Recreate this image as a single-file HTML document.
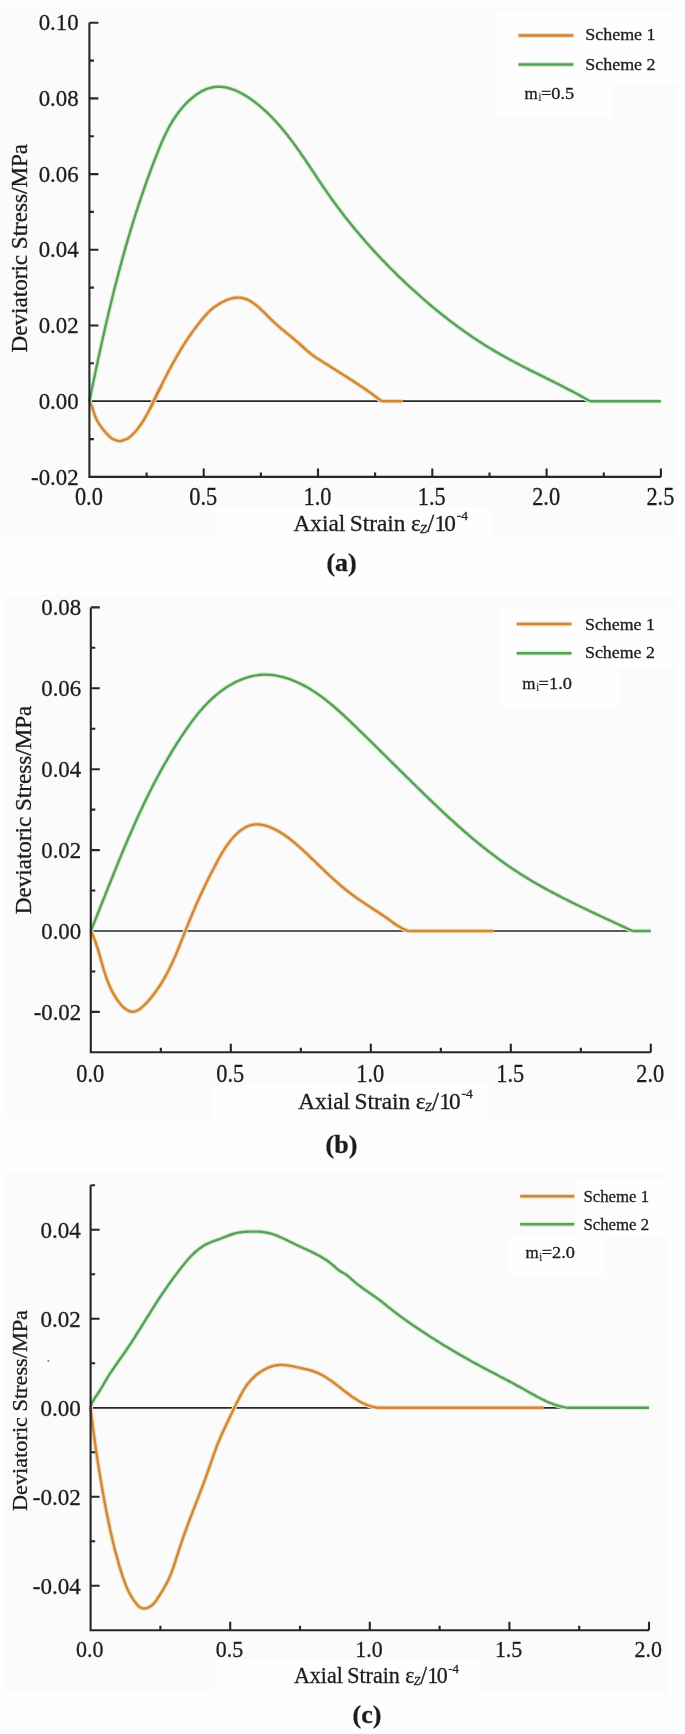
<!DOCTYPE html>
<html><head><meta charset="utf-8"><style>
html,body{margin:0;padding:0;background:#fefefe;}
svg{display:block;font-family:"Liberation Serif",serif;}
</style></head><body>
<svg width="685" height="1734" viewBox="0 0 685 1734">
<rect width="685" height="1734" fill="#fefefe"/>
<rect x="0" y="8" width="678" height="529" fill="#fbfbfb"/>
<rect x="215" y="507" width="275" height="30" fill="#fefefe"/>
<rect x="495" y="10" width="183" height="74" fill="#fefefe"/>
<rect x="495" y="84" width="118" height="34" fill="#fefefe"/>
<rect x="6" y="595" width="669" height="524" fill="#fbfbfb"/>
<rect x="212" y="1085" width="276" height="34" fill="#fefefe"/>
<rect x="502" y="607" width="171" height="62" fill="#fefefe"/>
<rect x="501" y="669" width="117" height="39" fill="#fefefe"/>
<rect x="6" y="1174" width="663" height="520" fill="#fbfbfb"/>
<rect x="215" y="1660" width="265" height="34" fill="#fefefe"/>
<rect x="577" y="1180" width="92" height="58" fill="#fefefe"/>
<rect x="510" y="1238" width="94" height="38" fill="#fefefe"/>
<defs><filter id="bl" x="0" y="0" width="685" height="1734" filterUnits="userSpaceOnUse"><feGaussianBlur stdDeviation="0.55"/></filter></defs>
<g fill="#1c1c1c" stroke="#1c1c1c" stroke-width="0.3" filter="url(#bl)">
<line x1="89.4" y1="401.2" x2="660.9" y2="401.2" stroke="#262626" stroke-width="1.7"/>
<path d="M89.4,401.2 L90.1,402.5 L90.8,403.9 L91.4,405.3 L91.9,406.7 L92.4,408.0 L92.9,409.4 L93.3,410.9 L93.8,412.3 L94.3,413.7 L94.7,415.1 L95.3,416.4 L95.8,417.8 L96.4,419.2 L97.1,420.5 L97.9,421.9 L98.6,423.2 L99.5,424.4 L100.3,425.7 L101.2,426.9 L102.0,428.1 L102.9,429.2 L103.8,430.3 L104.8,431.5 L105.8,432.6 L106.8,433.7 L107.8,434.8 L108.9,435.8 L109.9,436.9 L111.0,437.9 L112.1,438.7 L113.5,439.3 L115.0,439.8 L116.4,440.3 L117.8,440.8 L119.2,441.1 L120.6,441.1 L122.0,440.7 L123.4,440.2 L124.9,439.7 L126.3,439.2 L127.7,438.6 L128.9,437.8 L130.1,436.9 L131.2,435.9 L132.3,434.9 L133.3,433.8 L134.3,432.7 L135.3,431.6 L136.3,430.5 L137.3,429.3 L138.2,428.1 L139.1,426.9 L140.0,425.7 L140.8,424.5 L141.7,423.3 L142.5,422.0 L143.3,420.7 L144.1,419.5 L144.8,418.2 L145.6,416.9 L146.3,415.6 L147.0,414.3 L147.7,413.0 L148.4,411.7 L149.1,410.3 L149.8,409.0 L150.4,407.7 L151.1,406.3 L151.7,405.0 L152.4,403.6 L153.0,402.3 L153.7,400.9 L154.3,399.6 L155.0,398.2 L155.6,396.9 L156.3,395.6 L157.0,394.2 L157.6,392.9 L158.3,391.5 L159.0,390.2 L159.7,388.9 L160.4,387.6 L161.2,386.3 L161.9,385.0" fill="none" stroke="#f5dbb8" stroke-width="4.6" stroke-linejoin="round"/>
<path d="M149.6,409.9 L150.2,408.6 L150.9,407.2 L151.5,405.9 L152.1,404.5 L152.8,403.2 L153.4,401.9 L154.1,400.5 L154.7,399.2 L155.3,397.8 L156.0,396.5 L156.6,395.1 L157.3,393.8 L157.9,392.4 L158.6,391.1 L159.3,389.7 L159.9,388.4 L160.6,387.0 L161.2,385.7 L161.9,384.3 L162.6,383.0 L163.2,381.7 L163.9,380.3 L164.6,379.0 L165.3,377.6 L166.0,376.3 L166.7,374.9 L167.4,373.6 L168.0,372.3 L168.7,370.9 L169.5,369.6 L170.2,368.3 L170.9,367.0 L171.6,365.6 L172.3,364.3 L173.0,363.0 L173.8,361.7 L174.5,360.4 L175.2,359.1 L176.0,357.8 L176.7,356.5 L177.5,355.2 L178.2,353.9 L179.0,352.6 L179.8,351.3 L180.5,350.0 L181.3,348.7 L182.1,347.5 L182.9,346.2 L183.7,344.9 L184.5,343.7 L185.3,342.4 L186.1,341.1 L186.9,339.9 L187.7,338.7 L188.6,337.4 L189.4,336.2 L190.3,335.0 L191.1,333.8 L192.0,332.5 L192.8,331.3 L193.7,330.1 L194.6,328.9 L195.5,327.8 L196.3,326.6 L197.2,325.4 L198.2,324.2 L199.1,323.1 L200.0,321.9 L200.9,320.8 L201.9,319.6 L202.8,318.5 L203.8,317.4 L204.7,316.3 L205.7,315.2 L206.7,314.1 L207.7,313.0 L208.7,312.0 L209.8,310.9 L210.8,309.9 L212.0,309.0 L213.1,308.0 L214.3,307.1 L215.5,306.3 L216.8,305.4 L218.1,304.6 L219.4,303.8 L220.7,303.0 L222.1,302.2 L223.5,301.5 L225.0,300.8 L226.4,300.2 L227.9,299.6 L229.3,299.1 L230.8,298.7 L232.3,298.3 L233.7,298.0 L235.2,297.7 L236.6,297.6 L238.0,297.6 L239.4,297.6 L240.8,297.7 L242.1,298.0 L243.5,298.3 L244.8,298.7 L246.1,299.1 L247.4,299.6 L248.6,300.2 L249.9,300.9 L251.1,301.6 L252.3,302.4 L253.5,303.2 L254.7,304.1 L255.9,305.0 L257.0,305.9 L258.2,306.9 L259.3,307.9 L260.5,309.0 L261.6,310.1 L262.7,311.1 L263.9,312.2 L265.0,313.3 L266.1,314.4 L267.2,315.6 L268.3,316.7 L269.4,317.8 L270.5,318.9 L271.6,320.0 L272.8,321.0 L273.9,322.1 L275.0,323.1 L276.1,324.1 L277.2,325.1 L278.3,326.1 L279.5,327.1 L280.6,328.0 L281.7,329.0 L282.8,329.9 L284.0,330.9 L285.1,331.8 L286.2,332.7 L287.4,333.6 L288.5,334.6 L289.6,335.5 L290.7,336.4 L291.9,337.3 L293.0,338.3 L294.1,339.2 L295.2,340.2 L296.3,341.1 L297.5,342.1 L298.6,343.0 L299.7,344.0 L300.8,345.0 L301.9,346.0 L303.0,347.0 L304.1,348.0 L305.3,349.1 L306.4,350.1 L307.5,351.1 L308.7,352.0 L309.8,353.0 L311.0,353.9 L312.2,354.9 L313.4,355.7 L314.6,356.6 L315.8,357.4 L317.0,358.2 L318.3,359.0 L319.5,359.8 L320.8,360.6 L322.0,361.4 L323.3,362.2 L324.5,363.0 L325.8,363.7 L327.0,364.5 L328.3,365.3 L329.5,366.1 L330.8,366.9 L332.1,367.7 L333.3,368.5 L334.6,369.3 L335.8,370.1 L337.1,370.9 L338.4,371.7 L339.6,372.5 L340.9,373.3 L342.2,374.1 L343.4,374.9 L344.7,375.7 L346.0,376.5 L347.2,377.3 L348.5,378.1 L349.7,378.9 L351.0,379.7 L352.3,380.5 L353.5,381.3 L354.8,382.2 L356.0,383.0 L357.3,383.8 L358.5,384.6 L359.8,385.5 L361.0,386.3 L362.3,387.1 L363.5,388.0 L364.7,388.8 L366.0,389.7 L367.2,390.5 L368.4,391.4 L369.6,392.3 L370.9,393.1 L372.1,394.0 L373.3,394.9 L374.5,395.8 L375.7,396.7 L376.9,397.6 L378.1,398.5 L379.2,399.4 L380.4,400.3 L381.6,401.2" fill="none" stroke="#f5dbb8" stroke-width="4.6" stroke-linejoin="round"/>
<line x1="381.6" y1="401.2" x2="402.6" y2="401.2" stroke="#f5dbb8" stroke-width="4.6"/>
<path d="M89.4,401.2 L89.7,399.7 L90.0,398.2 L90.3,396.8 L90.6,395.3 L90.9,393.8 L91.2,392.4 L91.5,390.9 L91.8,389.4 L92.1,387.9 L92.4,386.5 L92.7,385.0 L93.0,383.5 L93.4,382.0 L93.7,380.6 L94.0,379.1 L94.3,377.6 L94.6,376.2 L94.9,374.7 L95.2,373.2 L95.5,371.8 L95.8,370.3 L96.1,368.8 L96.4,367.4 L96.8,365.9 L97.1,364.4 L97.4,363.0 L97.7,361.5 L98.0,360.0 L98.3,358.6 L98.6,357.1 L99.0,355.6 L99.3,354.2 L99.6,352.7 L99.9,351.2 L100.2,349.8 L100.5,348.3 L100.9,346.9 L101.2,345.4 L101.5,343.9 L101.8,342.5 L102.2,341.0 L102.5,339.6 L102.8,338.1 L103.1,336.6 L103.5,335.2 L103.8,333.7 L104.1,332.3 L104.5,330.8 L104.8,329.3 L105.1,327.9 L105.4,326.4 L105.8,325.0 L106.1,323.5 L106.5,322.1 L106.8,320.6 L107.1,319.2 L107.5,317.7 L107.8,316.3 L108.2,314.8 L108.5,313.3 L108.8,311.9 L109.2,310.4 L109.5,309.0 L109.9,307.5 L110.2,306.1 L110.6,304.6 L110.9,303.2 L111.3,301.7 L111.6,300.3 L112.0,298.8 L112.3,297.4 L112.7,295.9 L113.1,294.5 L113.4,293.0 L113.8,291.6 L114.1,290.1 L114.5,288.7 L114.9,287.3 L115.2,285.8 L115.6,284.4 L116.0,282.9 L116.4,281.5 L116.7,280.0 L117.1,278.6 L117.5,277.1 L117.9,275.7 L118.2,274.2 L118.6,272.8 L119.0,271.4 L119.4,269.9 L119.8,268.5 L120.1,267.0 L120.5,265.6 L120.9,264.2 L121.3,262.7 L121.7,261.3 L122.1,259.8 L122.5,258.4 L122.9,257.0 L123.3,255.5 L123.7,254.1 L124.1,252.6 L124.5,251.2 L124.9,249.8 L125.3,248.3 L125.7,246.9 L126.1,245.4 L126.6,244.0 L127.0,242.6 L127.4,241.1 L127.8,239.7 L128.2,238.3 L128.6,236.8 L129.1,235.4 L129.5,234.0 L129.9,232.5 L130.4,231.1 L130.8,229.7 L131.2,228.2 L131.7,226.8 L132.1,225.4 L132.5,223.9 L133.0,222.5 L133.4,221.1 L133.9,219.6 L134.3,218.2 L134.8,216.8 L135.2,215.3 L135.7,213.9 L136.1,212.5 L136.6,211.0 L137.1,209.6 L137.5,208.2 L138.0,206.8 L138.5,205.3 L138.9,203.9 L139.4,202.5 L139.9,201.0 L140.4,199.6 L140.8,198.2 L141.3,196.8 L141.8,195.3 L142.3,193.9 L142.8,192.5 L143.3,191.0 L143.8,189.6 L144.3,188.2 L144.7,186.8 L145.2,185.3 L145.8,183.9 L146.3,182.5 L146.8,181.1 L147.3,179.6 L147.8,178.2 L148.3,176.8 L148.8,175.4 L149.3,174.0 L149.9,172.5 L150.4,171.1 L150.9,169.7 L151.4,168.3 L152.0,166.8 L152.5,165.4 L153.1,164.0 L153.6,162.6 L154.1,161.2 L154.7,159.7 L155.2,158.3 L155.8,156.9 L156.3,155.5 L156.9,154.1 L157.5,152.6 L158.0,151.2 L158.6,149.8 L159.2,148.4 L159.8,147.0 L160.3,145.6 L160.9,144.2 L161.5,142.8 L162.1,141.4 L162.8,140.0 L163.4,138.6 L164.0,137.3 L164.7,135.9 L165.3,134.5 L166.0,133.2 L166.6,131.8 L167.3,130.5 L168.0,129.1 L168.7,127.8 L169.4,126.5 L170.2,125.2 L170.9,123.9 L171.7,122.6 L172.4,121.3 L173.2,120.0 L174.0,118.8 L174.8,117.5 L175.7,116.3 L176.5,115.1 L177.4,113.9 L178.2,112.7 L179.1,111.5 L180.1,110.3 L181.0,109.2 L181.9,108.1 L182.9,106.9 L183.9,105.8 L184.9,104.7 L185.9,103.7 L187.0,102.6 L188.0,101.6 L189.1,100.5 L190.2,99.5 L191.4,98.5 L192.5,97.6 L193.7,96.6 L194.9,95.7 L196.1,94.8 L197.3,94.0 L198.6,93.2 L199.8,92.4 L201.1,91.6 L202.4,90.9 L203.7,90.3 L205.1,89.7 L206.4,89.2 L207.7,88.7 L209.1,88.2 L210.5,87.8 L211.8,87.5 L213.2,87.2 L214.6,87.0 L216.0,86.9 L217.4,86.8 L218.8,86.7 L220.2,86.8 L221.5,86.9 L222.9,87.0 L224.3,87.2 L225.7,87.4 L227.1,87.7 L228.5,88.1 L229.9,88.5 L231.3,88.9 L232.6,89.4 L234.0,89.9 L235.4,90.4 L236.7,91.0 L238.1,91.6 L239.4,92.3 L240.8,93.0 L242.1,93.7 L243.4,94.4 L244.7,95.2 L246.1,96.0 L247.3,96.8 L248.6,97.6 L249.9,98.5 L251.1,99.4 L252.4,100.2 L253.6,101.1 L254.8,102.0 L256.0,103.0 L257.2,103.9 L258.4,104.9 L259.6,105.8 L260.7,106.8 L261.9,107.8 L263.0,108.8 L264.2,109.8 L265.3,110.8 L266.4,111.9 L267.5,112.9 L268.6,114.0 L269.6,115.0 L270.7,116.1 L271.8,117.2 L272.8,118.3 L273.8,119.4 L274.9,120.5 L275.9,121.6 L276.9,122.7 L277.9,123.8 L278.9,124.9 L279.9,126.1 L280.9,127.2 L281.8,128.3 L282.8,129.5 L283.7,130.6 L284.7,131.8 L285.6,133.0 L286.6,134.1 L287.5,135.3 L288.4,136.5 L289.3,137.7 L290.2,138.8 L291.1,140.0 L292.0,141.2 L292.9,142.4 L293.8,143.6 L294.7,144.8 L295.6,146.0 L296.4,147.2 L297.3,148.5 L298.2,149.7 L299.0,150.9 L299.9,152.1 L300.7,153.3 L301.6,154.6 L302.4,155.8 L303.3,157.0 L304.1,158.2 L305.0,159.5 L305.8,160.7 L306.6,161.9 L307.5,163.2 L308.3,164.4 L309.1,165.7 L310.0,166.9 L310.8,168.1 L311.6,169.4 L312.4,170.6 L313.3,171.9 L314.1,173.1 L314.9,174.3 L315.7,175.6 L316.6,176.8 L317.4,178.1 L318.2,179.3 L319.0,180.6 L319.9,181.8 L320.7,183.0 L321.5,184.3 L322.4,185.5 L323.2,186.7 L324.0,188.0 L324.9,189.2 L325.7,190.4 L326.6,191.7 L327.4,192.9 L328.3,194.1 L329.1,195.3 L330.0,196.6 L330.8,197.8 L331.7,199.0 L332.6,200.2 L333.5,201.4 L334.3,202.6 L335.2,203.8 L336.1,205.0 L337.0,206.2 L337.9,207.4 L338.8,208.6 L339.7,209.8 L340.6,211.0 L341.5,212.2 L342.4,213.4 L343.3,214.5 L344.2,215.7 L345.1,216.9 L346.0,218.1 L347.0,219.2 L347.9,220.4 L348.8,221.6 L349.8,222.8 L350.7,223.9 L351.6,225.1 L352.6,226.2 L353.5,227.4 L354.5,228.5 L355.4,229.7 L356.4,230.8 L357.4,232.0 L358.3,233.1 L359.3,234.3 L360.3,235.4 L361.2,236.5 L362.2,237.7 L363.2,238.8 L364.2,239.9 L365.1,241.1 L366.1,242.2 L367.1,243.3 L368.1,244.4 L369.1,245.5 L370.1,246.7 L371.1,247.8 L372.1,248.9 L373.1,250.0 L374.1,251.1 L375.2,252.2 L376.2,253.3 L377.2,254.4 L378.2,255.5 L379.2,256.6 L380.3,257.7 L381.3,258.8 L382.3,259.8 L383.4,260.9 L384.4,262.0 L385.5,263.1 L386.5,264.2 L387.5,265.2 L388.6,266.3 L389.6,267.4 L390.7,268.4 L391.8,269.5 L392.8,270.5 L393.9,271.6 L395.0,272.7 L396.0,273.7 L397.1,274.8 L398.2,275.8 L399.2,276.8 L400.3,277.9 L401.4,278.9 L402.5,280.0 L403.6,281.0 L404.7,282.0 L405.8,283.1 L406.8,284.1 L407.9,285.1 L409.0,286.1 L410.1,287.2 L411.2,288.2 L412.3,289.2 L413.5,290.2 L414.6,291.2 L415.7,292.2 L416.8,293.2 L417.9,294.2 L419.0,295.2 L420.2,296.2 L421.3,297.2 L422.4,298.2 L423.5,299.2 L424.7,300.2 L425.8,301.1 L426.9,302.1 L428.1,303.1 L429.2,304.1 L430.4,305.0 L431.5,306.0 L432.7,307.0 L433.8,307.9 L435.0,308.9 L436.1,309.8 L437.3,310.8 L438.5,311.7 L439.6,312.7 L440.8,313.6 L442.0,314.5 L443.1,315.5 L444.3,316.4 L445.5,317.3 L446.7,318.2 L447.9,319.2 L449.1,320.1 L450.2,321.0 L451.4,321.9 L452.6,322.8 L453.8,323.7 L455.0,324.6 L456.2,325.5 L457.4,326.4 L458.6,327.3 L459.8,328.1 L461.1,329.0 L462.3,329.9 L463.5,330.8 L464.7,331.6 L465.9,332.5 L467.2,333.3 L468.4,334.2 L469.6,335.0 L470.9,335.9 L472.1,336.7 L473.3,337.6 L474.6,338.4 L475.8,339.2 L477.1,340.0 L478.3,340.9 L479.6,341.7 L480.8,342.5 L482.1,343.3 L483.3,344.1 L484.6,344.9 L485.9,345.7 L487.1,346.5 L488.4,347.3 L489.7,348.1 L491.0,348.8 L492.3,349.6 L493.5,350.4 L494.8,351.1 L496.1,351.9 L497.4,352.6 L498.7,353.4 L500.0,354.1 L501.3,354.9 L502.6,355.6 L503.9,356.3 L505.2,357.1 L506.5,357.8 L507.8,358.5 L509.1,359.2 L510.5,359.9 L511.8,360.6 L513.1,361.3 L514.4,362.0 L515.7,362.7 L517.1,363.4 L518.4,364.1 L519.7,364.8 L521.0,365.5 L522.4,366.2 L523.7,366.9 L525.0,367.5 L526.4,368.2 L527.7,368.9 L529.0,369.6 L530.4,370.3 L531.7,370.9 L533.0,371.6 L534.4,372.3 L535.7,372.9 L537.1,373.6 L538.4,374.3 L539.7,374.9 L541.1,375.6 L542.4,376.3 L543.8,376.9 L545.1,377.6 L546.4,378.3 L547.8,378.9 L549.1,379.6 L550.5,380.3 L551.8,380.9 L553.1,381.6 L554.5,382.3 L555.8,383.0 L557.2,383.6 L558.5,384.3 L559.8,385.0 L561.2,385.7 L562.5,386.3 L563.8,387.0 L565.2,387.7 L566.5,388.4 L567.8,389.1 L569.1,389.8 L570.5,390.4 L571.8,391.1 L573.1,391.8 L574.4,392.5 L575.8,393.2 L577.1,393.9 L578.4,394.6 L579.7,395.4 L581.0,396.1 L582.3,396.8 L583.6,397.5 L584.9,398.2 L586.2,399.0 L587.5,399.7 L588.8,400.5 L590.1,401.2" fill="none" stroke="#d3eed0" stroke-width="4.6" stroke-linejoin="round"/>
<line x1="590.1" y1="401.2" x2="660.9" y2="401.2" stroke="#d3eed0" stroke-width="4.6"/>
<path d="M89.4,401.2 L90.1,402.5 L90.8,403.9 L91.4,405.3 L91.9,406.7 L92.4,408.0 L92.9,409.4 L93.3,410.9 L93.8,412.3 L94.3,413.7 L94.7,415.1 L95.3,416.4 L95.8,417.8 L96.4,419.2 L97.1,420.5 L97.9,421.9 L98.6,423.2 L99.5,424.4 L100.3,425.7 L101.2,426.9 L102.0,428.1 L102.9,429.2 L103.8,430.3 L104.8,431.5 L105.8,432.6 L106.8,433.7 L107.8,434.8 L108.9,435.8 L109.9,436.9 L111.0,437.9 L112.1,438.7 L113.5,439.3 L115.0,439.8 L116.4,440.3 L117.8,440.8 L119.2,441.1 L120.6,441.1 L122.0,440.7 L123.4,440.2 L124.9,439.7 L126.3,439.2 L127.7,438.6 L128.9,437.8 L130.1,436.9 L131.2,435.9 L132.3,434.9 L133.3,433.8 L134.3,432.7 L135.3,431.6 L136.3,430.5 L137.3,429.3 L138.2,428.1 L139.1,426.9 L140.0,425.7 L140.8,424.5 L141.7,423.3 L142.5,422.0 L143.3,420.7 L144.1,419.5 L144.8,418.2 L145.6,416.9 L146.3,415.6 L147.0,414.3 L147.7,413.0 L148.4,411.7 L149.1,410.3 L149.8,409.0 L150.4,407.7 L151.1,406.3 L151.7,405.0 L152.4,403.6 L153.0,402.3 L153.7,400.9 L154.3,399.6 L155.0,398.2 L155.6,396.9 L156.3,395.6 L157.0,394.2 L157.6,392.9 L158.3,391.5 L159.0,390.2 L159.7,388.9 L160.4,387.6 L161.2,386.3 L161.9,385.0" fill="none" stroke="#cf8839" stroke-width="2.4" stroke-linejoin="round"/>
<path d="M149.6,409.9 L150.2,408.6 L150.9,407.2 L151.5,405.9 L152.1,404.5 L152.8,403.2 L153.4,401.9 L154.1,400.5 L154.7,399.2 L155.3,397.8 L156.0,396.5 L156.6,395.1 L157.3,393.8 L157.9,392.4 L158.6,391.1 L159.3,389.7 L159.9,388.4 L160.6,387.0 L161.2,385.7 L161.9,384.3 L162.6,383.0 L163.2,381.7 L163.9,380.3 L164.6,379.0 L165.3,377.6 L166.0,376.3 L166.7,374.9 L167.4,373.6 L168.0,372.3 L168.7,370.9 L169.5,369.6 L170.2,368.3 L170.9,367.0 L171.6,365.6 L172.3,364.3 L173.0,363.0 L173.8,361.7 L174.5,360.4 L175.2,359.1 L176.0,357.8 L176.7,356.5 L177.5,355.2 L178.2,353.9 L179.0,352.6 L179.8,351.3 L180.5,350.0 L181.3,348.7 L182.1,347.5 L182.9,346.2 L183.7,344.9 L184.5,343.7 L185.3,342.4 L186.1,341.1 L186.9,339.9 L187.7,338.7 L188.6,337.4 L189.4,336.2 L190.3,335.0 L191.1,333.8 L192.0,332.5 L192.8,331.3 L193.7,330.1 L194.6,328.9 L195.5,327.8 L196.3,326.6 L197.2,325.4 L198.2,324.2 L199.1,323.1 L200.0,321.9 L200.9,320.8 L201.9,319.6 L202.8,318.5 L203.8,317.4 L204.7,316.3 L205.7,315.2 L206.7,314.1 L207.7,313.0 L208.7,312.0 L209.8,310.9 L210.8,309.9 L212.0,309.0 L213.1,308.0 L214.3,307.1 L215.5,306.3 L216.8,305.4 L218.1,304.6 L219.4,303.8 L220.7,303.0 L222.1,302.2 L223.5,301.5 L225.0,300.8 L226.4,300.2 L227.9,299.6 L229.3,299.1 L230.8,298.7 L232.3,298.3 L233.7,298.0 L235.2,297.7 L236.6,297.6 L238.0,297.6 L239.4,297.6 L240.8,297.7 L242.1,298.0 L243.5,298.3 L244.8,298.7 L246.1,299.1 L247.4,299.6 L248.6,300.2 L249.9,300.9 L251.1,301.6 L252.3,302.4 L253.5,303.2 L254.7,304.1 L255.9,305.0 L257.0,305.9 L258.2,306.9 L259.3,307.9 L260.5,309.0 L261.6,310.1 L262.7,311.1 L263.9,312.2 L265.0,313.3 L266.1,314.4 L267.2,315.6 L268.3,316.7 L269.4,317.8 L270.5,318.9 L271.6,320.0 L272.8,321.0 L273.9,322.1 L275.0,323.1 L276.1,324.1 L277.2,325.1 L278.3,326.1 L279.5,327.1 L280.6,328.0 L281.7,329.0 L282.8,329.9 L284.0,330.9 L285.1,331.8 L286.2,332.7 L287.4,333.6 L288.5,334.6 L289.6,335.5 L290.7,336.4 L291.9,337.3 L293.0,338.3 L294.1,339.2 L295.2,340.2 L296.3,341.1 L297.5,342.1 L298.6,343.0 L299.7,344.0 L300.8,345.0 L301.9,346.0 L303.0,347.0 L304.1,348.0 L305.3,349.1 L306.4,350.1 L307.5,351.1 L308.7,352.0 L309.8,353.0 L311.0,353.9 L312.2,354.9 L313.4,355.7 L314.6,356.6 L315.8,357.4 L317.0,358.2 L318.3,359.0 L319.5,359.8 L320.8,360.6 L322.0,361.4 L323.3,362.2 L324.5,363.0 L325.8,363.7 L327.0,364.5 L328.3,365.3 L329.5,366.1 L330.8,366.9 L332.1,367.7 L333.3,368.5 L334.6,369.3 L335.8,370.1 L337.1,370.9 L338.4,371.7 L339.6,372.5 L340.9,373.3 L342.2,374.1 L343.4,374.9 L344.7,375.7 L346.0,376.5 L347.2,377.3 L348.5,378.1 L349.7,378.9 L351.0,379.7 L352.3,380.5 L353.5,381.3 L354.8,382.2 L356.0,383.0 L357.3,383.8 L358.5,384.6 L359.8,385.5 L361.0,386.3 L362.3,387.1 L363.5,388.0 L364.7,388.8 L366.0,389.7 L367.2,390.5 L368.4,391.4 L369.6,392.3 L370.9,393.1 L372.1,394.0 L373.3,394.9 L374.5,395.8 L375.7,396.7 L376.9,397.6 L378.1,398.5 L379.2,399.4 L380.4,400.3 L381.6,401.2" fill="none" stroke="#cf8839" stroke-width="2.4" stroke-linejoin="round"/>
<line x1="381.6" y1="401.2" x2="402.6" y2="401.2" stroke="#cf8839" stroke-width="2.4"/>
<path d="M89.4,401.2 L89.7,399.7 L90.0,398.2 L90.3,396.8 L90.6,395.3 L90.9,393.8 L91.2,392.4 L91.5,390.9 L91.8,389.4 L92.1,387.9 L92.4,386.5 L92.7,385.0 L93.0,383.5 L93.4,382.0 L93.7,380.6 L94.0,379.1 L94.3,377.6 L94.6,376.2 L94.9,374.7 L95.2,373.2 L95.5,371.8 L95.8,370.3 L96.1,368.8 L96.4,367.4 L96.8,365.9 L97.1,364.4 L97.4,363.0 L97.7,361.5 L98.0,360.0 L98.3,358.6 L98.6,357.1 L99.0,355.6 L99.3,354.2 L99.6,352.7 L99.9,351.2 L100.2,349.8 L100.5,348.3 L100.9,346.9 L101.2,345.4 L101.5,343.9 L101.8,342.5 L102.2,341.0 L102.5,339.6 L102.8,338.1 L103.1,336.6 L103.5,335.2 L103.8,333.7 L104.1,332.3 L104.5,330.8 L104.8,329.3 L105.1,327.9 L105.4,326.4 L105.8,325.0 L106.1,323.5 L106.5,322.1 L106.8,320.6 L107.1,319.2 L107.5,317.7 L107.8,316.3 L108.2,314.8 L108.5,313.3 L108.8,311.9 L109.2,310.4 L109.5,309.0 L109.9,307.5 L110.2,306.1 L110.6,304.6 L110.9,303.2 L111.3,301.7 L111.6,300.3 L112.0,298.8 L112.3,297.4 L112.7,295.9 L113.1,294.5 L113.4,293.0 L113.8,291.6 L114.1,290.1 L114.5,288.7 L114.9,287.3 L115.2,285.8 L115.6,284.4 L116.0,282.9 L116.4,281.5 L116.7,280.0 L117.1,278.6 L117.5,277.1 L117.9,275.7 L118.2,274.2 L118.6,272.8 L119.0,271.4 L119.4,269.9 L119.8,268.5 L120.1,267.0 L120.5,265.6 L120.9,264.2 L121.3,262.7 L121.7,261.3 L122.1,259.8 L122.5,258.4 L122.9,257.0 L123.3,255.5 L123.7,254.1 L124.1,252.6 L124.5,251.2 L124.9,249.8 L125.3,248.3 L125.7,246.9 L126.1,245.4 L126.6,244.0 L127.0,242.6 L127.4,241.1 L127.8,239.7 L128.2,238.3 L128.6,236.8 L129.1,235.4 L129.5,234.0 L129.9,232.5 L130.4,231.1 L130.8,229.7 L131.2,228.2 L131.7,226.8 L132.1,225.4 L132.5,223.9 L133.0,222.5 L133.4,221.1 L133.9,219.6 L134.3,218.2 L134.8,216.8 L135.2,215.3 L135.7,213.9 L136.1,212.5 L136.6,211.0 L137.1,209.6 L137.5,208.2 L138.0,206.8 L138.5,205.3 L138.9,203.9 L139.4,202.5 L139.9,201.0 L140.4,199.6 L140.8,198.2 L141.3,196.8 L141.8,195.3 L142.3,193.9 L142.8,192.5 L143.3,191.0 L143.8,189.6 L144.3,188.2 L144.7,186.8 L145.2,185.3 L145.8,183.9 L146.3,182.5 L146.8,181.1 L147.3,179.6 L147.8,178.2 L148.3,176.8 L148.8,175.4 L149.3,174.0 L149.9,172.5 L150.4,171.1 L150.9,169.7 L151.4,168.3 L152.0,166.8 L152.5,165.4 L153.1,164.0 L153.6,162.6 L154.1,161.2 L154.7,159.7 L155.2,158.3 L155.8,156.9 L156.3,155.5 L156.9,154.1 L157.5,152.6 L158.0,151.2 L158.6,149.8 L159.2,148.4 L159.8,147.0 L160.3,145.6 L160.9,144.2 L161.5,142.8 L162.1,141.4 L162.8,140.0 L163.4,138.6 L164.0,137.3 L164.7,135.9 L165.3,134.5 L166.0,133.2 L166.6,131.8 L167.3,130.5 L168.0,129.1 L168.7,127.8 L169.4,126.5 L170.2,125.2 L170.9,123.9 L171.7,122.6 L172.4,121.3 L173.2,120.0 L174.0,118.8 L174.8,117.5 L175.7,116.3 L176.5,115.1 L177.4,113.9 L178.2,112.7 L179.1,111.5 L180.1,110.3 L181.0,109.2 L181.9,108.1 L182.9,106.9 L183.9,105.8 L184.9,104.7 L185.9,103.7 L187.0,102.6 L188.0,101.6 L189.1,100.5 L190.2,99.5 L191.4,98.5 L192.5,97.6 L193.7,96.6 L194.9,95.7 L196.1,94.8 L197.3,94.0 L198.6,93.2 L199.8,92.4 L201.1,91.6 L202.4,90.9 L203.7,90.3 L205.1,89.7 L206.4,89.2 L207.7,88.7 L209.1,88.2 L210.5,87.8 L211.8,87.5 L213.2,87.2 L214.6,87.0 L216.0,86.9 L217.4,86.8 L218.8,86.7 L220.2,86.8 L221.5,86.9 L222.9,87.0 L224.3,87.2 L225.7,87.4 L227.1,87.7 L228.5,88.1 L229.9,88.5 L231.3,88.9 L232.6,89.4 L234.0,89.9 L235.4,90.4 L236.7,91.0 L238.1,91.6 L239.4,92.3 L240.8,93.0 L242.1,93.7 L243.4,94.4 L244.7,95.2 L246.1,96.0 L247.3,96.8 L248.6,97.6 L249.9,98.5 L251.1,99.4 L252.4,100.2 L253.6,101.1 L254.8,102.0 L256.0,103.0 L257.2,103.9 L258.4,104.9 L259.6,105.8 L260.7,106.8 L261.9,107.8 L263.0,108.8 L264.2,109.8 L265.3,110.8 L266.4,111.9 L267.5,112.9 L268.6,114.0 L269.6,115.0 L270.7,116.1 L271.8,117.2 L272.8,118.3 L273.8,119.4 L274.9,120.5 L275.9,121.6 L276.9,122.7 L277.9,123.8 L278.9,124.9 L279.9,126.1 L280.9,127.2 L281.8,128.3 L282.8,129.5 L283.7,130.6 L284.7,131.8 L285.6,133.0 L286.6,134.1 L287.5,135.3 L288.4,136.5 L289.3,137.7 L290.2,138.8 L291.1,140.0 L292.0,141.2 L292.9,142.4 L293.8,143.6 L294.7,144.8 L295.6,146.0 L296.4,147.2 L297.3,148.5 L298.2,149.7 L299.0,150.9 L299.9,152.1 L300.7,153.3 L301.6,154.6 L302.4,155.8 L303.3,157.0 L304.1,158.2 L305.0,159.5 L305.8,160.7 L306.6,161.9 L307.5,163.2 L308.3,164.4 L309.1,165.7 L310.0,166.9 L310.8,168.1 L311.6,169.4 L312.4,170.6 L313.3,171.9 L314.1,173.1 L314.9,174.3 L315.7,175.6 L316.6,176.8 L317.4,178.1 L318.2,179.3 L319.0,180.6 L319.9,181.8 L320.7,183.0 L321.5,184.3 L322.4,185.5 L323.2,186.7 L324.0,188.0 L324.9,189.2 L325.7,190.4 L326.6,191.7 L327.4,192.9 L328.3,194.1 L329.1,195.3 L330.0,196.6 L330.8,197.8 L331.7,199.0 L332.6,200.2 L333.5,201.4 L334.3,202.6 L335.2,203.8 L336.1,205.0 L337.0,206.2 L337.9,207.4 L338.8,208.6 L339.7,209.8 L340.6,211.0 L341.5,212.2 L342.4,213.4 L343.3,214.5 L344.2,215.7 L345.1,216.9 L346.0,218.1 L347.0,219.2 L347.9,220.4 L348.8,221.6 L349.8,222.8 L350.7,223.9 L351.6,225.1 L352.6,226.2 L353.5,227.4 L354.5,228.5 L355.4,229.7 L356.4,230.8 L357.4,232.0 L358.3,233.1 L359.3,234.3 L360.3,235.4 L361.2,236.5 L362.2,237.7 L363.2,238.8 L364.2,239.9 L365.1,241.1 L366.1,242.2 L367.1,243.3 L368.1,244.4 L369.1,245.5 L370.1,246.7 L371.1,247.8 L372.1,248.9 L373.1,250.0 L374.1,251.1 L375.2,252.2 L376.2,253.3 L377.2,254.4 L378.2,255.5 L379.2,256.6 L380.3,257.7 L381.3,258.8 L382.3,259.8 L383.4,260.9 L384.4,262.0 L385.5,263.1 L386.5,264.2 L387.5,265.2 L388.6,266.3 L389.6,267.4 L390.7,268.4 L391.8,269.5 L392.8,270.5 L393.9,271.6 L395.0,272.7 L396.0,273.7 L397.1,274.8 L398.2,275.8 L399.2,276.8 L400.3,277.9 L401.4,278.9 L402.5,280.0 L403.6,281.0 L404.7,282.0 L405.8,283.1 L406.8,284.1 L407.9,285.1 L409.0,286.1 L410.1,287.2 L411.2,288.2 L412.3,289.2 L413.5,290.2 L414.6,291.2 L415.7,292.2 L416.8,293.2 L417.9,294.2 L419.0,295.2 L420.2,296.2 L421.3,297.2 L422.4,298.2 L423.5,299.2 L424.7,300.2 L425.8,301.1 L426.9,302.1 L428.1,303.1 L429.2,304.1 L430.4,305.0 L431.5,306.0 L432.7,307.0 L433.8,307.9 L435.0,308.9 L436.1,309.8 L437.3,310.8 L438.5,311.7 L439.6,312.7 L440.8,313.6 L442.0,314.5 L443.1,315.5 L444.3,316.4 L445.5,317.3 L446.7,318.2 L447.9,319.2 L449.1,320.1 L450.2,321.0 L451.4,321.9 L452.6,322.8 L453.8,323.7 L455.0,324.6 L456.2,325.5 L457.4,326.4 L458.6,327.3 L459.8,328.1 L461.1,329.0 L462.3,329.9 L463.5,330.8 L464.7,331.6 L465.9,332.5 L467.2,333.3 L468.4,334.2 L469.6,335.0 L470.9,335.9 L472.1,336.7 L473.3,337.6 L474.6,338.4 L475.8,339.2 L477.1,340.0 L478.3,340.9 L479.6,341.7 L480.8,342.5 L482.1,343.3 L483.3,344.1 L484.6,344.9 L485.9,345.7 L487.1,346.5 L488.4,347.3 L489.7,348.1 L491.0,348.8 L492.3,349.6 L493.5,350.4 L494.8,351.1 L496.1,351.9 L497.4,352.6 L498.7,353.4 L500.0,354.1 L501.3,354.9 L502.6,355.6 L503.9,356.3 L505.2,357.1 L506.5,357.8 L507.8,358.5 L509.1,359.2 L510.5,359.9 L511.8,360.6 L513.1,361.3 L514.4,362.0 L515.7,362.7 L517.1,363.4 L518.4,364.1 L519.7,364.8 L521.0,365.5 L522.4,366.2 L523.7,366.9 L525.0,367.5 L526.4,368.2 L527.7,368.9 L529.0,369.6 L530.4,370.3 L531.7,370.9 L533.0,371.6 L534.4,372.3 L535.7,372.9 L537.1,373.6 L538.4,374.3 L539.7,374.9 L541.1,375.6 L542.4,376.3 L543.8,376.9 L545.1,377.6 L546.4,378.3 L547.8,378.9 L549.1,379.6 L550.5,380.3 L551.8,380.9 L553.1,381.6 L554.5,382.3 L555.8,383.0 L557.2,383.6 L558.5,384.3 L559.8,385.0 L561.2,385.7 L562.5,386.3 L563.8,387.0 L565.2,387.7 L566.5,388.4 L567.8,389.1 L569.1,389.8 L570.5,390.4 L571.8,391.1 L573.1,391.8 L574.4,392.5 L575.8,393.2 L577.1,393.9 L578.4,394.6 L579.7,395.4 L581.0,396.1 L582.3,396.8 L583.6,397.5 L584.9,398.2 L586.2,399.0 L587.5,399.7 L588.8,400.5 L590.1,401.2" fill="none" stroke="#58a058" stroke-width="2.4" stroke-linejoin="round"/>
<line x1="590.1" y1="401.2" x2="660.9" y2="401.2" stroke="#58a058" stroke-width="2.4"/>
<path d="M89.4,22.7 V476.9 H660.9" fill="none" stroke="#262626" stroke-width="2.1"/>
<path d="M89.4,22.7h9 M89.4,98.4h9 M89.4,174.1h9 M89.4,249.8h9 M89.4,325.5h9 M89.4,60.6h4.5 M89.4,136.2h4.5 M89.4,211.9h4.5 M89.4,287.6h4.5 M89.4,363.3h4.5 M89.4,439.1h4.5 M203.7,476.9v-8.5 M318.0,476.9v-8.5 M432.3,476.9v-8.5 M546.6,476.9v-8.5 M660.9,476.9v-8.5 M146.6,476.9v-4.5 M260.9,476.9v-4.5 M375.1,476.9v-4.5 M489.5,476.9v-4.5 M603.8,476.9v-4.5" stroke="#262626" stroke-width="2.1" fill="none"/>
<text transform="translate(78.60,30.30) scale(0.96,1)" font-size="23.8" text-anchor="end">0.10</text>
<text transform="translate(78.60,106.00) scale(0.96,1)" font-size="23.8" text-anchor="end">0.08</text>
<text transform="translate(78.60,181.70) scale(0.96,1)" font-size="23.8" text-anchor="end">0.06</text>
<text transform="translate(78.60,257.40) scale(0.96,1)" font-size="23.8" text-anchor="end">0.04</text>
<text transform="translate(78.60,333.10) scale(0.96,1)" font-size="23.8" text-anchor="end">0.02</text>
<text transform="translate(78.60,408.80) scale(0.96,1)" font-size="23.8" text-anchor="end">0.00</text>
<text transform="translate(78.60,484.50) scale(0.96,1)" font-size="23.8" text-anchor="end">-0.02</text>
<text transform="translate(88.90,505.10) scale(0.915,1)" font-size="24.4" text-anchor="middle">0.0</text>
<text transform="translate(203.20,505.10) scale(0.915,1)" font-size="24.4" text-anchor="middle">0.5</text>
<text transform="translate(317.50,505.10) scale(0.915,1)" font-size="24.4" text-anchor="middle">1.0</text>
<text transform="translate(431.80,505.10) scale(0.915,1)" font-size="24.4" text-anchor="middle">1.5</text>
<text transform="translate(546.10,505.10) scale(0.915,1)" font-size="24.4" text-anchor="middle">2.0</text>
<text transform="translate(660.40,505.10) scale(0.915,1)" font-size="24.4" text-anchor="middle">2.5</text>
<text transform="translate(27.3,248.2) rotate(-90)" text-anchor="middle" font-size="23" textLength="208.5" lengthAdjust="spacingAndGlyphs">Deviatoric Stress/MPa</text>
<g transform="translate(294.1,531.3) scale(1.0)">
<text x="-0.60" y="0.00" font-size="23.3">Axial</text>
<text x="55.70" y="0.00" font-size="23.3">Strain</text>
<text x="117.00" y="0.00" font-size="23.3">ε</text>
<text x="126.00" y="2.00" font-size="12.5" font-style="italic">Z</text>
<text x="133.00" y="1.00" font-size="26">/</text>
<text x="140.40" y="0.00" font-size="23.3" letter-spacing="-1.8">10</text>
<text x="162.60" y="-11.00" font-size="13.5">-4</text>
</g>
<text x="341.60" y="571.30" font-size="26" text-anchor="middle" font-weight="bold">(a)</text>
<path d="M518.4,35.4H573.5" stroke="#f5dbb8" stroke-width="5"/>
<path d="M518.4,64.60000000000001H573.5" stroke="#d3eed0" stroke-width="5"/>
<path d="M518.4,35.4H573.5" stroke="#cf8839" stroke-width="2.5"/>
<path d="M518.4,64.60000000000001H573.5" stroke="#58a058" stroke-width="2.5"/>
<text transform="translate(585.30,40.40) scale(1.025,1)" font-size="17.5">Scheme 1</text>
<text transform="translate(585.30,69.60) scale(1.025,1)" font-size="17.5">Scheme 2</text>
<text x="524.60" y="98.80" font-size="17">m</text>
<text x="538.20" y="101.10" font-size="12.24" stroke-width="0">i</text>
<text transform="translate(540.90,98.80) scale(1.08,1)" font-size="17">=0.5</text>
<line x1="90.8" y1="931.0" x2="650.8" y2="931.0" stroke="#262626" stroke-width="1.7"/>
<path d="M90.8,931.0 L91.5,932.3 L92.1,933.7 L92.7,935.1 L93.3,936.4 L93.9,937.8 L94.4,939.2 L95.0,940.6 L95.5,942.0 L96.0,943.4 L96.4,944.8 L96.9,946.2 L97.4,947.6 L97.8,949.0 L98.3,950.5 L98.7,951.9 L99.1,953.3 L99.5,954.8 L99.9,956.2 L100.3,957.6 L100.7,959.1 L101.1,960.5 L101.5,962.0 L102.0,963.4 L102.4,964.9 L102.8,966.3 L103.2,967.8 L103.6,969.2 L104.1,970.7 L104.5,972.1 L105.0,973.5 L105.4,975.0 L105.9,976.4 L106.4,977.9 L106.9,979.3 L107.5,980.7 L108.0,982.2 L108.6,983.6 L109.2,985.0 L109.8,986.4 L110.4,987.9 L111.1,989.3 L111.8,990.7 L112.5,992.1 L113.3,993.5 L114.1,994.8 L114.9,996.2 L115.7,997.6 L116.6,998.9 L117.5,1000.3 L118.4,1001.6 L119.4,1002.8 L120.4,1004.0 L121.4,1005.2 L122.4,1006.3 L123.4,1007.3 L124.5,1008.2 L125.6,1009.0 L126.7,1009.8 L127.8,1010.4 L128.9,1010.9 L130.0,1011.3 L131.2,1011.6 L132.3,1011.7 L133.5,1011.6 L134.6,1011.4 L135.8,1011.1 L136.9,1010.6 L138.1,1010.0 L139.2,1009.4 L140.3,1008.6 L141.5,1007.7 L142.6,1006.7 L143.7,1005.7 L144.8,1004.6 L145.9,1003.5 L147.0,1002.4 L148.0,1001.2 L149.0,1000.0 L150.1,998.9 L151.0,997.7 L152.0,996.5 L153.0,995.2 L153.9,994.0 L154.8,992.8 L155.8,991.6 L156.6,990.3 L157.5,989.1 L158.4,987.8 L159.2,986.5 L160.1,985.3 L160.9,984.0 L161.7,982.7 L162.5,981.4 L163.2,980.1 L164.0,978.8 L164.7,977.5 L165.5,976.1 L166.2,974.8 L166.9,973.5 L167.6,972.2 L168.3,970.8 L169.0,969.5 L169.7,968.1 L170.3,966.8 L171.0,965.4 L171.6,964.0 L172.3,962.7 L172.9,961.3 L173.5,959.9 L174.1,958.5 L174.8,957.2 L175.4,955.8 L176.0,954.4 L176.5,953.0 L177.1,951.6 L177.7,950.2 L178.3,948.8 L178.9,947.4 L179.4,946.0 L180.0,944.6 L180.5,943.2 L181.1,941.8 L181.7,940.4 L182.2,939.0 L182.8,937.6 L183.3,936.2 L183.9,934.8 L184.4,933.4 L185.0,932.0 L185.5,930.6 L186.0,929.2 L186.6,927.8 L187.2,926.5 L187.7,925.1 L188.3,923.7 L188.8,922.3 L189.4,920.9 L189.9,919.5 L190.5,918.1 L191.1,916.8 L191.7,915.4 L192.2,914.0 L192.8,912.6 L193.4,911.3 L194.0,909.9 L194.6,908.5 L195.1,907.2 L195.7,905.8 L196.3,904.4 L196.9,903.1 L197.5,901.7 L198.2,900.4 L198.8,899.0 L199.4,897.7 L200.0,896.3 L200.6,895.0 L201.2,893.6 L201.9,892.3 L202.5,890.9 L203.1,889.6 L203.8,888.2 L204.4,886.9 L205.0,885.5 L205.7,884.2 L206.3,882.9 L207.0,881.5 L207.7,880.2 L208.3,878.8 L209.0,877.5 L209.7,876.2 L210.3,874.8 L211.0,873.5 L211.7,872.2 L212.4,870.8 L213.1,869.5 L213.8,868.2 L214.5,866.8 L215.2,865.5 L215.9,864.1 L216.6,862.8 L217.3,861.5 L218.0,860.1 L218.7,858.8 L219.5,857.5 L220.2,856.2 L221.0,854.8 L221.7,853.5 L222.5,852.2 L223.3,850.9 L224.1,849.7 L224.9,848.4 L225.7,847.1 L226.6,845.9 L227.5,844.6 L228.3,843.4 L229.3,842.2 L230.2,841.0 L231.1,839.8 L232.1,838.7 L233.1,837.6 L234.1,836.4 L235.2,835.3 L236.3,834.3 L237.4,833.2 L238.5,832.2 L239.7,831.3 L240.8,830.3 L242.0,829.5 L243.3,828.7 L244.5,827.9 L245.8,827.2 L247.1,826.6 L248.4,826.0 L249.7,825.5 L251.0,825.1 L252.4,824.8 L253.7,824.6 L255.1,824.4 L256.5,824.4 L257.9,824.4 L259.3,824.5 L260.8,824.7 L262.2,824.9 L263.6,825.2 L265.1,825.5 L266.5,825.9 L267.9,826.4 L269.3,826.9 L270.8,827.5 L272.2,828.1 L273.6,828.7 L275.0,829.4 L276.4,830.1 L277.7,830.9 L279.1,831.6 L280.4,832.4 L281.7,833.2 L283.0,834.1 L284.3,834.9 L285.6,835.8 L286.8,836.7 L288.0,837.6 L289.3,838.5 L290.4,839.4 L291.6,840.3 L292.8,841.3 L293.9,842.2 L295.1,843.2 L296.2,844.2 L297.3,845.2 L298.5,846.1 L299.6,847.1 L300.7,848.1 L301.8,849.1 L302.9,850.1 L304.0,851.2 L305.0,852.2 L306.1,853.2 L307.2,854.2 L308.3,855.2 L309.4,856.3 L310.5,857.3 L311.5,858.3 L312.6,859.4 L313.7,860.4 L314.8,861.4 L315.9,862.5 L316.9,863.5 L318.0,864.5 L319.1,865.6 L320.2,866.6 L321.2,867.6 L322.3,868.7 L323.4,869.7 L324.5,870.7 L325.6,871.8 L326.7,872.8 L327.8,873.8 L328.8,874.8 L329.9,875.9 L331.0,876.9 L332.1,877.9 L333.2,878.9 L334.3,879.9 L335.5,880.9 L336.6,881.9 L337.7,882.9 L338.8,883.8 L339.9,884.8 L341.1,885.8 L342.2,886.8 L343.4,887.7 L344.5,888.7 L345.7,889.6 L346.8,890.5 L348.0,891.5 L349.2,892.4 L350.4,893.3 L351.5,894.2 L352.7,895.1 L353.9,896.0 L355.1,896.9 L356.4,897.7 L357.6,898.6 L358.8,899.5 L360.0,900.3 L361.3,901.1 L362.5,902.0 L363.8,902.8 L365.0,903.6 L366.3,904.5 L367.6,905.3 L368.8,906.1 L370.1,906.9 L371.3,907.7 L372.6,908.5 L373.9,909.4 L375.1,910.2 L376.4,911.0 L377.6,911.8 L378.9,912.7 L380.1,913.5 L381.4,914.3 L382.6,915.2 L383.9,916.0 L385.1,916.9 L386.3,917.7 L387.6,918.6 L388.8,919.5 L390.0,920.4 L391.2,921.3 L392.4,922.1 L393.6,923.0 L394.9,923.9 L396.1,924.7 L397.3,925.5 L398.6,926.3 L399.9,927.0 L401.1,927.8 L402.4,928.5 L403.8,929.1 L405.1,929.7 L406.5,930.3 L407.9,930.8 L409.3,931.2" fill="none" stroke="#f5dbb8" stroke-width="4.6" stroke-linejoin="round"/>
<line x1="409.3" y1="931.0" x2="493.5" y2="931.0" stroke="#f5dbb8" stroke-width="4.6"/>
<path d="M90.8,931.0 L91.4,929.6 L91.9,928.2 L92.5,926.8 L93.1,925.4 L93.6,924.0 L94.2,922.6 L94.7,921.2 L95.3,919.8 L95.9,918.4 L96.4,917.0 L97.0,915.6 L97.5,914.2 L98.1,912.8 L98.7,911.4 L99.2,910.0 L99.8,908.6 L100.3,907.2 L100.9,905.8 L101.4,904.4 L102.0,903.1 L102.5,901.7 L103.1,900.3 L103.7,898.9 L104.2,897.5 L104.8,896.1 L105.3,894.7 L105.9,893.3 L106.4,891.9 L107.0,890.5 L107.5,889.1 L108.1,887.7 L108.6,886.3 L109.2,884.9 L109.8,883.5 L110.3,882.1 L110.9,880.8 L111.4,879.4 L112.0,878.0 L112.5,876.6 L113.1,875.2 L113.7,873.8 L114.2,872.4 L114.8,871.0 L115.3,869.7 L115.9,868.3 L116.5,866.9 L117.0,865.5 L117.6,864.1 L118.1,862.7 L118.7,861.3 L119.3,860.0 L119.8,858.6 L120.4,857.2 L121.0,855.8 L121.5,854.4 L122.1,853.1 L122.7,851.7 L123.3,850.3 L123.8,848.9 L124.4,847.6 L125.0,846.2 L125.6,844.8 L126.2,843.4 L126.7,842.1 L127.3,840.7 L127.9,839.3 L128.5,837.9 L129.1,836.6 L129.7,835.2 L130.3,833.8 L130.9,832.5 L131.5,831.1 L132.1,829.7 L132.7,828.4 L133.3,827.0 L133.9,825.6 L134.5,824.3 L135.1,822.9 L135.7,821.6 L136.3,820.2 L136.9,818.8 L137.5,817.5 L138.2,816.1 L138.8,814.8 L139.4,813.4 L140.0,812.1 L140.7,810.7 L141.3,809.4 L141.9,808.0 L142.6,806.7 L143.2,805.3 L143.8,804.0 L144.5,802.6 L145.1,801.3 L145.8,799.9 L146.4,798.6 L147.1,797.3 L147.7,795.9 L148.4,794.6 L149.1,793.3 L149.7,791.9 L150.4,790.6 L151.1,789.3 L151.8,787.9 L152.4,786.6 L153.1,785.3 L153.8,783.9 L154.5,782.6 L155.2,781.3 L155.9,780.0 L156.6,778.6 L157.3,777.3 L158.0,776.0 L158.7,774.7 L159.4,773.4 L160.1,772.0 L160.9,770.7 L161.6,769.4 L162.3,768.1 L163.0,766.8 L163.8,765.5 L164.5,764.2 L165.3,762.9 L166.0,761.6 L166.8,760.3 L167.5,759.0 L168.3,757.7 L169.0,756.4 L169.8,755.1 L170.6,753.8 L171.4,752.5 L172.1,751.2 L172.9,749.9 L173.7,748.6 L174.5,747.4 L175.3,746.1 L176.1,744.8 L176.9,743.5 L177.7,742.2 L178.5,741.0 L179.4,739.7 L180.2,738.4 L181.0,737.1 L181.9,735.9 L182.7,734.6 L183.5,733.3 L184.4,732.1 L185.3,730.8 L186.1,729.6 L187.0,728.3 L187.9,727.1 L188.7,725.8 L189.6,724.6 L190.5,723.4 L191.4,722.1 L192.3,720.9 L193.2,719.7 L194.2,718.5 L195.1,717.3 L196.0,716.1 L197.0,714.9 L197.9,713.8 L198.9,712.6 L199.9,711.4 L200.8,710.3 L201.8,709.2 L202.8,708.0 L203.8,706.9 L204.8,705.8 L205.9,704.7 L206.9,703.7 L207.9,702.6 L209.0,701.5 L210.1,700.5 L211.1,699.5 L212.2,698.5 L213.3,697.5 L214.4,696.5 L215.5,695.5 L216.7,694.6 L217.8,693.6 L219.0,692.7 L220.1,691.8 L221.3,690.9 L222.5,690.1 L223.7,689.2 L224.9,688.4 L226.1,687.5 L227.4,686.7 L228.6,686.0 L229.9,685.2 L231.2,684.5 L232.5,683.7 L233.8,683.1 L235.1,682.4 L236.4,681.7 L237.8,681.1 L239.1,680.5 L240.5,679.9 L241.9,679.3 L243.2,678.8 L244.6,678.3 L246.0,677.8 L247.4,677.4 L248.9,677.0 L250.3,676.6 L251.7,676.2 L253.2,675.9 L254.6,675.6 L256.1,675.4 L257.5,675.2 L259.0,675.0 L260.4,674.8 L261.9,674.7 L263.4,674.6 L264.8,674.6 L266.3,674.6 L267.8,674.7 L269.3,674.7 L270.7,674.9 L272.2,675.0 L273.7,675.2 L275.2,675.4 L276.6,675.7 L278.1,675.9 L279.6,676.3 L281.0,676.6 L282.5,677.0 L283.9,677.4 L285.4,677.8 L286.8,678.2 L288.2,678.7 L289.7,679.2 L291.1,679.7 L292.5,680.3 L293.9,680.8 L295.2,681.4 L296.6,682.0 L298.0,682.6 L299.3,683.2 L300.7,683.9 L302.0,684.5 L303.3,685.2 L304.6,685.9 L305.9,686.6 L307.2,687.3 L308.5,688.1 L309.8,688.8 L311.1,689.6 L312.3,690.4 L313.6,691.2 L314.8,692.0 L316.1,692.8 L317.3,693.7 L318.5,694.5 L319.7,695.4 L320.9,696.3 L322.1,697.1 L323.3,698.0 L324.5,698.9 L325.7,699.8 L326.9,700.8 L328.0,701.7 L329.2,702.6 L330.4,703.6 L331.5,704.6 L332.7,705.5 L333.8,706.5 L334.9,707.5 L336.1,708.5 L337.2,709.5 L338.3,710.5 L339.4,711.5 L340.6,712.5 L341.7,713.5 L342.8,714.5 L343.9,715.5 L345.0,716.5 L346.1,717.6 L347.2,718.6 L348.3,719.6 L349.4,720.7 L350.5,721.7 L351.6,722.8 L352.6,723.8 L353.7,724.9 L354.8,725.9 L355.9,726.9 L357.0,728.0 L358.0,729.0 L359.1,730.1 L360.2,731.1 L361.3,732.2 L362.3,733.2 L363.4,734.2 L364.5,735.3 L365.5,736.3 L366.6,737.4 L367.7,738.4 L368.8,739.5 L369.8,740.5 L370.9,741.6 L371.9,742.6 L373.0,743.7 L374.1,744.7 L375.1,745.7 L376.2,746.8 L377.3,747.8 L378.3,748.9 L379.4,749.9 L380.4,751.0 L381.5,752.0 L382.5,753.1 L383.6,754.1 L384.7,755.2 L385.7,756.2 L386.8,757.2 L387.8,758.3 L388.9,759.3 L389.9,760.4 L391.0,761.4 L392.0,762.5 L393.1,763.5 L394.2,764.6 L395.2,765.6 L396.3,766.7 L397.3,767.7 L398.4,768.7 L399.4,769.8 L400.5,770.8 L401.5,771.9 L402.6,772.9 L403.7,774.0 L404.7,775.0 L405.8,776.1 L406.8,777.1 L407.9,778.1 L408.9,779.2 L410.0,780.2 L411.1,781.3 L412.1,782.3 L413.2,783.4 L414.3,784.4 L415.3,785.4 L416.4,786.5 L417.4,787.5 L418.5,788.6 L419.6,789.6 L420.6,790.7 L421.7,791.7 L422.8,792.7 L423.9,793.8 L424.9,794.8 L426.0,795.9 L427.1,796.9 L428.1,797.9 L429.2,799.0 L430.3,800.0 L431.4,801.0 L432.5,802.1 L433.5,803.1 L434.6,804.1 L435.7,805.2 L436.8,806.2 L437.9,807.2 L439.0,808.3 L440.1,809.3 L441.2,810.3 L442.2,811.3 L443.3,812.4 L444.4,813.4 L445.5,814.4 L446.6,815.4 L447.7,816.5 L448.8,817.5 L449.9,818.5 L451.0,819.5 L452.2,820.5 L453.3,821.5 L454.4,822.5 L455.5,823.5 L456.6,824.5 L457.7,825.5 L458.8,826.5 L460.0,827.5 L461.1,828.5 L462.2,829.5 L463.3,830.5 L464.5,831.5 L465.6,832.5 L466.7,833.4 L467.9,834.4 L469.0,835.4 L470.1,836.4 L471.3,837.3 L472.4,838.3 L473.6,839.3 L474.7,840.2 L475.9,841.2 L477.0,842.1 L478.2,843.1 L479.4,844.0 L480.5,845.0 L481.7,845.9 L482.8,846.9 L484.0,847.8 L485.2,848.7 L486.4,849.6 L487.5,850.6 L488.7,851.5 L489.9,852.4 L491.1,853.3 L492.3,854.2 L493.5,855.1 L494.7,856.0 L495.9,856.9 L497.1,857.8 L498.3,858.7 L499.5,859.6 L500.7,860.5 L501.9,861.3 L503.1,862.2 L504.3,863.1 L505.5,863.9 L506.8,864.8 L508.0,865.7 L509.2,866.5 L510.5,867.3 L511.7,868.2 L512.9,869.0 L514.2,869.8 L515.4,870.7 L516.7,871.5 L517.9,872.3 L519.2,873.1 L520.4,873.9 L521.7,874.7 L523.0,875.5 L524.2,876.3 L525.5,877.1 L526.8,877.9 L528.1,878.6 L529.3,879.4 L530.6,880.2 L531.9,881.0 L533.2,881.7 L534.5,882.5 L535.8,883.2 L537.1,884.0 L538.4,884.7 L539.7,885.4 L541.0,886.2 L542.3,886.9 L543.6,887.6 L544.9,888.4 L546.2,889.1 L547.5,889.8 L548.9,890.5 L550.2,891.2 L551.5,891.9 L552.8,892.6 L554.2,893.3 L555.5,894.0 L556.8,894.7 L558.1,895.4 L559.5,896.1 L560.8,896.8 L562.1,897.5 L563.5,898.2 L564.8,898.9 L566.2,899.5 L567.5,900.2 L568.8,900.9 L570.2,901.6 L571.5,902.2 L572.9,902.9 L574.2,903.5 L575.6,904.2 L576.9,904.9 L578.3,905.5 L579.6,906.2 L581.0,906.8 L582.3,907.5 L583.7,908.1 L585.0,908.8 L586.4,909.4 L587.7,910.1 L589.1,910.7 L590.5,911.4 L591.8,912.0 L593.2,912.6 L594.5,913.3 L595.9,913.9 L597.2,914.6 L598.6,915.2 L600.0,915.8 L601.3,916.5 L602.7,917.1 L604.0,917.7 L605.4,918.4 L606.8,919.0 L608.1,919.6 L609.5,920.3 L610.8,920.9 L612.2,921.5 L613.6,922.2 L614.9,922.8 L616.3,923.4 L617.6,924.0 L619.0,924.7 L620.3,925.3 L621.7,925.9 L623.0,926.6 L624.4,927.2 L625.8,927.8 L627.1,928.5 L628.5,929.1 L629.8,929.7 L631.2,930.4 L632.5,931.0" fill="none" stroke="#d3eed0" stroke-width="4.6" stroke-linejoin="round"/>
<line x1="632.5" y1="931.0" x2="650.8" y2="931.0" stroke="#d3eed0" stroke-width="4.6"/>
<path d="M90.8,931.0 L91.5,932.3 L92.1,933.7 L92.7,935.1 L93.3,936.4 L93.9,937.8 L94.4,939.2 L95.0,940.6 L95.5,942.0 L96.0,943.4 L96.4,944.8 L96.9,946.2 L97.4,947.6 L97.8,949.0 L98.3,950.5 L98.7,951.9 L99.1,953.3 L99.5,954.8 L99.9,956.2 L100.3,957.6 L100.7,959.1 L101.1,960.5 L101.5,962.0 L102.0,963.4 L102.4,964.9 L102.8,966.3 L103.2,967.8 L103.6,969.2 L104.1,970.7 L104.5,972.1 L105.0,973.5 L105.4,975.0 L105.9,976.4 L106.4,977.9 L106.9,979.3 L107.5,980.7 L108.0,982.2 L108.6,983.6 L109.2,985.0 L109.8,986.4 L110.4,987.9 L111.1,989.3 L111.8,990.7 L112.5,992.1 L113.3,993.5 L114.1,994.8 L114.9,996.2 L115.7,997.6 L116.6,998.9 L117.5,1000.3 L118.4,1001.6 L119.4,1002.8 L120.4,1004.0 L121.4,1005.2 L122.4,1006.3 L123.4,1007.3 L124.5,1008.2 L125.6,1009.0 L126.7,1009.8 L127.8,1010.4 L128.9,1010.9 L130.0,1011.3 L131.2,1011.6 L132.3,1011.7 L133.5,1011.6 L134.6,1011.4 L135.8,1011.1 L136.9,1010.6 L138.1,1010.0 L139.2,1009.4 L140.3,1008.6 L141.5,1007.7 L142.6,1006.7 L143.7,1005.7 L144.8,1004.6 L145.9,1003.5 L147.0,1002.4 L148.0,1001.2 L149.0,1000.0 L150.1,998.9 L151.0,997.7 L152.0,996.5 L153.0,995.2 L153.9,994.0 L154.8,992.8 L155.8,991.6 L156.6,990.3 L157.5,989.1 L158.4,987.8 L159.2,986.5 L160.1,985.3 L160.9,984.0 L161.7,982.7 L162.5,981.4 L163.2,980.1 L164.0,978.8 L164.7,977.5 L165.5,976.1 L166.2,974.8 L166.9,973.5 L167.6,972.2 L168.3,970.8 L169.0,969.5 L169.7,968.1 L170.3,966.8 L171.0,965.4 L171.6,964.0 L172.3,962.7 L172.9,961.3 L173.5,959.9 L174.1,958.5 L174.8,957.2 L175.4,955.8 L176.0,954.4 L176.5,953.0 L177.1,951.6 L177.7,950.2 L178.3,948.8 L178.9,947.4 L179.4,946.0 L180.0,944.6 L180.5,943.2 L181.1,941.8 L181.7,940.4 L182.2,939.0 L182.8,937.6 L183.3,936.2 L183.9,934.8 L184.4,933.4 L185.0,932.0 L185.5,930.6 L186.0,929.2 L186.6,927.8 L187.2,926.5 L187.7,925.1 L188.3,923.7 L188.8,922.3 L189.4,920.9 L189.9,919.5 L190.5,918.1 L191.1,916.8 L191.7,915.4 L192.2,914.0 L192.8,912.6 L193.4,911.3 L194.0,909.9 L194.6,908.5 L195.1,907.2 L195.7,905.8 L196.3,904.4 L196.9,903.1 L197.5,901.7 L198.2,900.4 L198.8,899.0 L199.4,897.7 L200.0,896.3 L200.6,895.0 L201.2,893.6 L201.9,892.3 L202.5,890.9 L203.1,889.6 L203.8,888.2 L204.4,886.9 L205.0,885.5 L205.7,884.2 L206.3,882.9 L207.0,881.5 L207.7,880.2 L208.3,878.8 L209.0,877.5 L209.7,876.2 L210.3,874.8 L211.0,873.5 L211.7,872.2 L212.4,870.8 L213.1,869.5 L213.8,868.2 L214.5,866.8 L215.2,865.5 L215.9,864.1 L216.6,862.8 L217.3,861.5 L218.0,860.1 L218.7,858.8 L219.5,857.5 L220.2,856.2 L221.0,854.8 L221.7,853.5 L222.5,852.2 L223.3,850.9 L224.1,849.7 L224.9,848.4 L225.7,847.1 L226.6,845.9 L227.5,844.6 L228.3,843.4 L229.3,842.2 L230.2,841.0 L231.1,839.8 L232.1,838.7 L233.1,837.6 L234.1,836.4 L235.2,835.3 L236.3,834.3 L237.4,833.2 L238.5,832.2 L239.7,831.3 L240.8,830.3 L242.0,829.5 L243.3,828.7 L244.5,827.9 L245.8,827.2 L247.1,826.6 L248.4,826.0 L249.7,825.5 L251.0,825.1 L252.4,824.8 L253.7,824.6 L255.1,824.4 L256.5,824.4 L257.9,824.4 L259.3,824.5 L260.8,824.7 L262.2,824.9 L263.6,825.2 L265.1,825.5 L266.5,825.9 L267.9,826.4 L269.3,826.9 L270.8,827.5 L272.2,828.1 L273.6,828.7 L275.0,829.4 L276.4,830.1 L277.7,830.9 L279.1,831.6 L280.4,832.4 L281.7,833.2 L283.0,834.1 L284.3,834.9 L285.6,835.8 L286.8,836.7 L288.0,837.6 L289.3,838.5 L290.4,839.4 L291.6,840.3 L292.8,841.3 L293.9,842.2 L295.1,843.2 L296.2,844.2 L297.3,845.2 L298.5,846.1 L299.6,847.1 L300.7,848.1 L301.8,849.1 L302.9,850.1 L304.0,851.2 L305.0,852.2 L306.1,853.2 L307.2,854.2 L308.3,855.2 L309.4,856.3 L310.5,857.3 L311.5,858.3 L312.6,859.4 L313.7,860.4 L314.8,861.4 L315.9,862.5 L316.9,863.5 L318.0,864.5 L319.1,865.6 L320.2,866.6 L321.2,867.6 L322.3,868.7 L323.4,869.7 L324.5,870.7 L325.6,871.8 L326.7,872.8 L327.8,873.8 L328.8,874.8 L329.9,875.9 L331.0,876.9 L332.1,877.9 L333.2,878.9 L334.3,879.9 L335.5,880.9 L336.6,881.9 L337.7,882.9 L338.8,883.8 L339.9,884.8 L341.1,885.8 L342.2,886.8 L343.4,887.7 L344.5,888.7 L345.7,889.6 L346.8,890.5 L348.0,891.5 L349.2,892.4 L350.4,893.3 L351.5,894.2 L352.7,895.1 L353.9,896.0 L355.1,896.9 L356.4,897.7 L357.6,898.6 L358.8,899.5 L360.0,900.3 L361.3,901.1 L362.5,902.0 L363.8,902.8 L365.0,903.6 L366.3,904.5 L367.6,905.3 L368.8,906.1 L370.1,906.9 L371.3,907.7 L372.6,908.5 L373.9,909.4 L375.1,910.2 L376.4,911.0 L377.6,911.8 L378.9,912.7 L380.1,913.5 L381.4,914.3 L382.6,915.2 L383.9,916.0 L385.1,916.9 L386.3,917.7 L387.6,918.6 L388.8,919.5 L390.0,920.4 L391.2,921.3 L392.4,922.1 L393.6,923.0 L394.9,923.9 L396.1,924.7 L397.3,925.5 L398.6,926.3 L399.9,927.0 L401.1,927.8 L402.4,928.5 L403.8,929.1 L405.1,929.7 L406.5,930.3 L407.9,930.8 L409.3,931.2" fill="none" stroke="#cf8839" stroke-width="2.4" stroke-linejoin="round"/>
<line x1="409.3" y1="931.0" x2="493.5" y2="931.0" stroke="#cf8839" stroke-width="2.4"/>
<path d="M90.8,931.0 L91.4,929.6 L91.9,928.2 L92.5,926.8 L93.1,925.4 L93.6,924.0 L94.2,922.6 L94.7,921.2 L95.3,919.8 L95.9,918.4 L96.4,917.0 L97.0,915.6 L97.5,914.2 L98.1,912.8 L98.7,911.4 L99.2,910.0 L99.8,908.6 L100.3,907.2 L100.9,905.8 L101.4,904.4 L102.0,903.1 L102.5,901.7 L103.1,900.3 L103.7,898.9 L104.2,897.5 L104.8,896.1 L105.3,894.7 L105.9,893.3 L106.4,891.9 L107.0,890.5 L107.5,889.1 L108.1,887.7 L108.6,886.3 L109.2,884.9 L109.8,883.5 L110.3,882.1 L110.9,880.8 L111.4,879.4 L112.0,878.0 L112.5,876.6 L113.1,875.2 L113.7,873.8 L114.2,872.4 L114.8,871.0 L115.3,869.7 L115.9,868.3 L116.5,866.9 L117.0,865.5 L117.6,864.1 L118.1,862.7 L118.7,861.3 L119.3,860.0 L119.8,858.6 L120.4,857.2 L121.0,855.8 L121.5,854.4 L122.1,853.1 L122.7,851.7 L123.3,850.3 L123.8,848.9 L124.4,847.6 L125.0,846.2 L125.6,844.8 L126.2,843.4 L126.7,842.1 L127.3,840.7 L127.9,839.3 L128.5,837.9 L129.1,836.6 L129.7,835.2 L130.3,833.8 L130.9,832.5 L131.5,831.1 L132.1,829.7 L132.7,828.4 L133.3,827.0 L133.9,825.6 L134.5,824.3 L135.1,822.9 L135.7,821.6 L136.3,820.2 L136.9,818.8 L137.5,817.5 L138.2,816.1 L138.8,814.8 L139.4,813.4 L140.0,812.1 L140.7,810.7 L141.3,809.4 L141.9,808.0 L142.6,806.7 L143.2,805.3 L143.8,804.0 L144.5,802.6 L145.1,801.3 L145.8,799.9 L146.4,798.6 L147.1,797.3 L147.7,795.9 L148.4,794.6 L149.1,793.3 L149.7,791.9 L150.4,790.6 L151.1,789.3 L151.8,787.9 L152.4,786.6 L153.1,785.3 L153.8,783.9 L154.5,782.6 L155.2,781.3 L155.9,780.0 L156.6,778.6 L157.3,777.3 L158.0,776.0 L158.7,774.7 L159.4,773.4 L160.1,772.0 L160.9,770.7 L161.6,769.4 L162.3,768.1 L163.0,766.8 L163.8,765.5 L164.5,764.2 L165.3,762.9 L166.0,761.6 L166.8,760.3 L167.5,759.0 L168.3,757.7 L169.0,756.4 L169.8,755.1 L170.6,753.8 L171.4,752.5 L172.1,751.2 L172.9,749.9 L173.7,748.6 L174.5,747.4 L175.3,746.1 L176.1,744.8 L176.9,743.5 L177.7,742.2 L178.5,741.0 L179.4,739.7 L180.2,738.4 L181.0,737.1 L181.9,735.9 L182.7,734.6 L183.5,733.3 L184.4,732.1 L185.3,730.8 L186.1,729.6 L187.0,728.3 L187.9,727.1 L188.7,725.8 L189.6,724.6 L190.5,723.4 L191.4,722.1 L192.3,720.9 L193.2,719.7 L194.2,718.5 L195.1,717.3 L196.0,716.1 L197.0,714.9 L197.9,713.8 L198.9,712.6 L199.9,711.4 L200.8,710.3 L201.8,709.2 L202.8,708.0 L203.8,706.9 L204.8,705.8 L205.9,704.7 L206.9,703.7 L207.9,702.6 L209.0,701.5 L210.1,700.5 L211.1,699.5 L212.2,698.5 L213.3,697.5 L214.4,696.5 L215.5,695.5 L216.7,694.6 L217.8,693.6 L219.0,692.7 L220.1,691.8 L221.3,690.9 L222.5,690.1 L223.7,689.2 L224.9,688.4 L226.1,687.5 L227.4,686.7 L228.6,686.0 L229.9,685.2 L231.2,684.5 L232.5,683.7 L233.8,683.1 L235.1,682.4 L236.4,681.7 L237.8,681.1 L239.1,680.5 L240.5,679.9 L241.9,679.3 L243.2,678.8 L244.6,678.3 L246.0,677.8 L247.4,677.4 L248.9,677.0 L250.3,676.6 L251.7,676.2 L253.2,675.9 L254.6,675.6 L256.1,675.4 L257.5,675.2 L259.0,675.0 L260.4,674.8 L261.9,674.7 L263.4,674.6 L264.8,674.6 L266.3,674.6 L267.8,674.7 L269.3,674.7 L270.7,674.9 L272.2,675.0 L273.7,675.2 L275.2,675.4 L276.6,675.7 L278.1,675.9 L279.6,676.3 L281.0,676.6 L282.5,677.0 L283.9,677.4 L285.4,677.8 L286.8,678.2 L288.2,678.7 L289.7,679.2 L291.1,679.7 L292.5,680.3 L293.9,680.8 L295.2,681.4 L296.6,682.0 L298.0,682.6 L299.3,683.2 L300.7,683.9 L302.0,684.5 L303.3,685.2 L304.6,685.9 L305.9,686.6 L307.2,687.3 L308.5,688.1 L309.8,688.8 L311.1,689.6 L312.3,690.4 L313.6,691.2 L314.8,692.0 L316.1,692.8 L317.3,693.7 L318.5,694.5 L319.7,695.4 L320.9,696.3 L322.1,697.1 L323.3,698.0 L324.5,698.9 L325.7,699.8 L326.9,700.8 L328.0,701.7 L329.2,702.6 L330.4,703.6 L331.5,704.6 L332.7,705.5 L333.8,706.5 L334.9,707.5 L336.1,708.5 L337.2,709.5 L338.3,710.5 L339.4,711.5 L340.6,712.5 L341.7,713.5 L342.8,714.5 L343.9,715.5 L345.0,716.5 L346.1,717.6 L347.2,718.6 L348.3,719.6 L349.4,720.7 L350.5,721.7 L351.6,722.8 L352.6,723.8 L353.7,724.9 L354.8,725.9 L355.9,726.9 L357.0,728.0 L358.0,729.0 L359.1,730.1 L360.2,731.1 L361.3,732.2 L362.3,733.2 L363.4,734.2 L364.5,735.3 L365.5,736.3 L366.6,737.4 L367.7,738.4 L368.8,739.5 L369.8,740.5 L370.9,741.6 L371.9,742.6 L373.0,743.7 L374.1,744.7 L375.1,745.7 L376.2,746.8 L377.3,747.8 L378.3,748.9 L379.4,749.9 L380.4,751.0 L381.5,752.0 L382.5,753.1 L383.6,754.1 L384.7,755.2 L385.7,756.2 L386.8,757.2 L387.8,758.3 L388.9,759.3 L389.9,760.4 L391.0,761.4 L392.0,762.5 L393.1,763.5 L394.2,764.6 L395.2,765.6 L396.3,766.7 L397.3,767.7 L398.4,768.7 L399.4,769.8 L400.5,770.8 L401.5,771.9 L402.6,772.9 L403.7,774.0 L404.7,775.0 L405.8,776.1 L406.8,777.1 L407.9,778.1 L408.9,779.2 L410.0,780.2 L411.1,781.3 L412.1,782.3 L413.2,783.4 L414.3,784.4 L415.3,785.4 L416.4,786.5 L417.4,787.5 L418.5,788.6 L419.6,789.6 L420.6,790.7 L421.7,791.7 L422.8,792.7 L423.9,793.8 L424.9,794.8 L426.0,795.9 L427.1,796.9 L428.1,797.9 L429.2,799.0 L430.3,800.0 L431.4,801.0 L432.5,802.1 L433.5,803.1 L434.6,804.1 L435.7,805.2 L436.8,806.2 L437.9,807.2 L439.0,808.3 L440.1,809.3 L441.2,810.3 L442.2,811.3 L443.3,812.4 L444.4,813.4 L445.5,814.4 L446.6,815.4 L447.7,816.5 L448.8,817.5 L449.9,818.5 L451.0,819.5 L452.2,820.5 L453.3,821.5 L454.4,822.5 L455.5,823.5 L456.6,824.5 L457.7,825.5 L458.8,826.5 L460.0,827.5 L461.1,828.5 L462.2,829.5 L463.3,830.5 L464.5,831.5 L465.6,832.5 L466.7,833.4 L467.9,834.4 L469.0,835.4 L470.1,836.4 L471.3,837.3 L472.4,838.3 L473.6,839.3 L474.7,840.2 L475.9,841.2 L477.0,842.1 L478.2,843.1 L479.4,844.0 L480.5,845.0 L481.7,845.9 L482.8,846.9 L484.0,847.8 L485.2,848.7 L486.4,849.6 L487.5,850.6 L488.7,851.5 L489.9,852.4 L491.1,853.3 L492.3,854.2 L493.5,855.1 L494.7,856.0 L495.9,856.9 L497.1,857.8 L498.3,858.7 L499.5,859.6 L500.7,860.5 L501.9,861.3 L503.1,862.2 L504.3,863.1 L505.5,863.9 L506.8,864.8 L508.0,865.7 L509.2,866.5 L510.5,867.3 L511.7,868.2 L512.9,869.0 L514.2,869.8 L515.4,870.7 L516.7,871.5 L517.9,872.3 L519.2,873.1 L520.4,873.9 L521.7,874.7 L523.0,875.5 L524.2,876.3 L525.5,877.1 L526.8,877.9 L528.1,878.6 L529.3,879.4 L530.6,880.2 L531.9,881.0 L533.2,881.7 L534.5,882.5 L535.8,883.2 L537.1,884.0 L538.4,884.7 L539.7,885.4 L541.0,886.2 L542.3,886.9 L543.6,887.6 L544.9,888.4 L546.2,889.1 L547.5,889.8 L548.9,890.5 L550.2,891.2 L551.5,891.9 L552.8,892.6 L554.2,893.3 L555.5,894.0 L556.8,894.7 L558.1,895.4 L559.5,896.1 L560.8,896.8 L562.1,897.5 L563.5,898.2 L564.8,898.9 L566.2,899.5 L567.5,900.2 L568.8,900.9 L570.2,901.6 L571.5,902.2 L572.9,902.9 L574.2,903.5 L575.6,904.2 L576.9,904.9 L578.3,905.5 L579.6,906.2 L581.0,906.8 L582.3,907.5 L583.7,908.1 L585.0,908.8 L586.4,909.4 L587.7,910.1 L589.1,910.7 L590.5,911.4 L591.8,912.0 L593.2,912.6 L594.5,913.3 L595.9,913.9 L597.2,914.6 L598.6,915.2 L600.0,915.8 L601.3,916.5 L602.7,917.1 L604.0,917.7 L605.4,918.4 L606.8,919.0 L608.1,919.6 L609.5,920.3 L610.8,920.9 L612.2,921.5 L613.6,922.2 L614.9,922.8 L616.3,923.4 L617.6,924.0 L619.0,924.7 L620.3,925.3 L621.7,925.9 L623.0,926.6 L624.4,927.2 L625.8,927.8 L627.1,928.5 L628.5,929.1 L629.8,929.7 L631.2,930.4 L632.5,931.0" fill="none" stroke="#58a058" stroke-width="2.4" stroke-linejoin="round"/>
<line x1="632.5" y1="931.0" x2="650.8" y2="931.0" stroke="#58a058" stroke-width="2.4"/>
<path d="M90.8,607.4 V1052.3 H650.8" fill="none" stroke="#262626" stroke-width="2.1"/>
<path d="M90.8,607.4h9 M90.8,688.3h9 M90.8,769.2h9 M90.8,850.1h9 M90.8,1011.9h9 M90.8,647.8h4.5 M90.8,728.8h4.5 M90.8,809.6h4.5 M90.8,890.5h4.5 M90.8,971.5h4.5 M230.8,1052.3v-8.5 M370.8,1052.3v-8.5 M510.8,1052.3v-8.5 M650.8,1052.3v-8.5 M160.8,1052.3v-4.5 M300.8,1052.3v-4.5 M440.8,1052.3v-4.5 M580.8,1052.3v-4.5" stroke="#262626" stroke-width="2.1" fill="none"/>
<text transform="translate(81.20,615.00) scale(0.96,1)" font-size="23.8" text-anchor="end">0.08</text>
<text transform="translate(81.20,695.90) scale(0.96,1)" font-size="23.8" text-anchor="end">0.06</text>
<text transform="translate(81.20,776.80) scale(0.96,1)" font-size="23.8" text-anchor="end">0.04</text>
<text transform="translate(81.20,857.70) scale(0.96,1)" font-size="23.8" text-anchor="end">0.02</text>
<text transform="translate(81.20,938.60) scale(0.96,1)" font-size="23.8" text-anchor="end">0.00</text>
<text transform="translate(81.20,1019.50) scale(0.96,1)" font-size="23.8" text-anchor="end">-0.02</text>
<text transform="translate(90.30,1081.90) scale(0.915,1)" font-size="24.4" text-anchor="middle">0.0</text>
<text transform="translate(230.30,1081.90) scale(0.915,1)" font-size="24.4" text-anchor="middle">0.5</text>
<text transform="translate(370.30,1081.90) scale(0.915,1)" font-size="24.4" text-anchor="middle">1.0</text>
<text transform="translate(510.30,1081.90) scale(0.915,1)" font-size="24.4" text-anchor="middle">1.5</text>
<text transform="translate(650.30,1081.90) scale(0.915,1)" font-size="24.4" text-anchor="middle">2.0</text>
<text transform="translate(30.6,810) rotate(-90)" text-anchor="middle" font-size="23" textLength="208.5" lengthAdjust="spacingAndGlyphs">Deviatoric Stress/MPa</text>
<g transform="translate(298.8,1109) scale(1.0)">
<text x="-0.60" y="0.00" font-size="23.3">Axial</text>
<text x="55.70" y="0.00" font-size="23.3">Strain</text>
<text x="117.00" y="0.00" font-size="23.3">ε</text>
<text x="126.00" y="2.00" font-size="12.5" font-style="italic">Z</text>
<text x="133.00" y="1.00" font-size="26">/</text>
<text x="140.40" y="0.00" font-size="23.3" letter-spacing="-1.8">10</text>
<text x="162.60" y="-11.00" font-size="13.5">-4</text>
</g>
<text x="341.50" y="1153.00" font-size="26" text-anchor="middle" font-weight="bold">(b)</text>
<path d="M516.7,624.1H571.6" stroke="#f5dbb8" stroke-width="5"/>
<path d="M516.7,653.3H571.6" stroke="#d3eed0" stroke-width="5"/>
<path d="M516.7,624.1H571.6" stroke="#cf8839" stroke-width="2.5"/>
<path d="M516.7,653.3H571.6" stroke="#58a058" stroke-width="2.5"/>
<text transform="translate(585.00,630.20) scale(1.02,1)" font-size="17.5">Scheme 1</text>
<text transform="translate(585.00,658.20) scale(1.02,1)" font-size="17.5">Scheme 2</text>
<text x="522.30" y="688.60" font-size="17">m</text>
<text x="535.90" y="690.90" font-size="12.24" stroke-width="0">i</text>
<text transform="translate(538.60,688.60) scale(1.08,1)" font-size="17">=1.0</text>
<line x1="90.6" y1="1407.8" x2="649.0" y2="1407.8" stroke="#262626" stroke-width="1.7"/>
<path d="M90.6,1407.8 L90.8,1409.3 L90.9,1410.8 L91.1,1412.3 L91.3,1413.7 L91.5,1415.2 L91.6,1416.7 L91.8,1418.2 L92.0,1419.7 L92.2,1421.2 L92.4,1422.7 L92.5,1424.1 L92.7,1425.6 L92.9,1427.1 L93.1,1428.6 L93.3,1430.1 L93.5,1431.6 L93.7,1433.1 L93.9,1434.5 L94.1,1436.0 L94.3,1437.5 L94.5,1439.0 L94.7,1440.5 L94.9,1442.0 L95.1,1443.5 L95.3,1444.9 L95.5,1446.4 L95.7,1447.9 L95.9,1449.4 L96.2,1450.9 L96.4,1452.3 L96.6,1453.8 L96.8,1455.3 L97.0,1456.8 L97.3,1458.3 L97.5,1459.8 L97.7,1461.2 L97.9,1462.7 L98.2,1464.2 L98.4,1465.7 L98.6,1467.2 L98.9,1468.6 L99.1,1470.1 L99.3,1471.6 L99.6,1473.1 L99.8,1474.6 L100.1,1476.0 L100.3,1477.5 L100.6,1479.0 L100.8,1480.5 L101.1,1481.9 L101.3,1483.4 L101.6,1484.9 L101.8,1486.4 L102.1,1487.9 L102.3,1489.3 L102.6,1490.8 L102.8,1492.3 L103.1,1493.8 L103.4,1495.2 L103.6,1496.7 L103.9,1498.2 L104.2,1499.6 L104.5,1501.1 L104.7,1502.6 L105.0,1504.1 L105.3,1505.5 L105.6,1507.0 L105.8,1508.5 L106.1,1509.9 L106.4,1511.4 L106.7,1512.9 L107.0,1514.4 L107.3,1515.8 L107.6,1517.3 L107.9,1518.8 L108.2,1520.2 L108.5,1521.7 L108.8,1523.2 L109.1,1524.6 L109.4,1526.1 L109.7,1527.6 L110.0,1529.0 L110.4,1530.5 L110.7,1531.9 L111.0,1533.4 L111.3,1534.9 L111.7,1536.3 L112.0,1537.8 L112.3,1539.2 L112.7,1540.7 L113.0,1542.1 L113.4,1543.6 L113.8,1545.1 L114.1,1546.5 L114.5,1548.0 L114.8,1549.4 L115.2,1550.9 L115.6,1552.3 L116.0,1553.8 L116.4,1555.2 L116.8,1556.7 L117.2,1558.1 L117.6,1559.5 L118.0,1561.0 L118.4,1562.4 L118.8,1563.9 L119.2,1565.3 L119.6,1566.8 L120.1,1568.2 L120.5,1569.6 L120.9,1571.1 L121.4,1572.5 L121.8,1573.9 L122.3,1575.4 L122.8,1576.8 L123.3,1578.2 L123.8,1579.6 L124.3,1581.0 L124.8,1582.4 L125.3,1583.8 L125.9,1585.2 L126.4,1586.6 L127.0,1588.0 L127.6,1589.4 L128.3,1590.7 L128.9,1592.1 L129.6,1593.4 L130.3,1594.7 L131.1,1596.0 L131.9,1597.3 L132.7,1598.6 L133.5,1599.9 L134.4,1601.1 L135.3,1602.3 L136.2,1603.5 L137.2,1604.7 L138.2,1605.8 L139.3,1606.7 L140.5,1607.5 L141.7,1608.1 L143.0,1608.4 L144.4,1608.5 L145.8,1608.3 L147.2,1607.9 L148.7,1607.4 L150.0,1606.6 L151.3,1605.7 L152.5,1604.8 L153.6,1603.7 L154.6,1602.5 L155.6,1601.4 L156.5,1600.1 L157.3,1598.8 L158.1,1597.5 L159.0,1596.2 L159.8,1595.0 L160.6,1593.7 L161.4,1592.4 L162.2,1591.1 L163.0,1589.8 L163.7,1588.6 L164.5,1587.3 L165.2,1586.0 L165.9,1584.7 L166.6,1583.4 L167.3,1582.1 L168.0,1580.8 L168.6,1579.4 L169.2,1578.1 L169.8,1576.7 L170.4,1575.3 L170.9,1574.0 L171.5,1572.6 L172.0,1571.2 L172.5,1569.8 L173.0,1568.4 L173.5,1567.0 L174.0,1565.5 L174.4,1564.1 L174.9,1562.7 L175.4,1561.3 L175.8,1559.8 L176.3,1558.4 L176.7,1557.0 L177.2,1555.5 L177.6,1554.1 L178.1,1552.7 L178.6,1551.2 L179.0,1549.8 L179.5,1548.4 L180.0,1546.9 L180.4,1545.5 L180.9,1544.1 L181.4,1542.7 L181.9,1541.2 L182.4,1539.8 L182.9,1538.4 L183.3,1537.0 L183.8,1535.6 L184.3,1534.2 L184.9,1532.8 L185.4,1531.3 L185.9,1529.9 L186.4,1528.5 L186.9,1527.1 L187.4,1525.7 L187.9,1524.3 L188.5,1522.9 L189.0,1521.5 L189.5,1520.1 L190.0,1518.7 L190.6,1517.3 L191.1,1515.9 L191.6,1514.5 L192.2,1513.1 L192.7,1511.7 L193.2,1510.3 L193.8,1508.9 L194.3,1507.5 L194.8,1506.1 L195.4,1504.7 L195.9,1503.3 L196.5,1501.9 L197.0,1500.6 L197.5,1499.2 L198.1,1497.8 L198.6,1496.4 L199.1,1495.0 L199.7,1493.6 L200.2,1492.2 L200.7,1490.8 L201.3,1489.4 L201.8,1488.0 L202.3,1486.6 L202.9,1485.2 L203.4,1483.8 L203.9,1482.4 L204.4,1481.0 L205.0,1479.6 L205.5,1478.2 L206.0,1476.8 L206.5,1475.4 L207.0,1473.9 L207.5,1472.5 L208.0,1471.1 L208.5,1469.7 L209.0,1468.3 L209.5,1466.9 L210.0,1465.5 L210.5,1464.1 L211.0,1462.6 L211.5,1461.2 L212.0,1459.8 L212.5,1458.4 L212.9,1457.0 L213.4,1455.5 L213.9,1454.1 L214.4,1452.7 L214.9,1451.3 L215.4,1449.9 L216.0,1448.5 L216.5,1447.1 L217.0,1445.7 L217.5,1444.3 L218.1,1442.9 L218.6,1441.5 L219.2,1440.2 L219.8,1438.8 L220.4,1437.4 L221.0,1436.1 L221.6,1434.7 L222.2,1433.3 L222.8,1432.0 L223.4,1430.6 L224.1,1429.3 L224.7,1427.9 L225.3,1426.6 L226.0,1425.2 L226.6,1423.9 L227.3,1422.5 L227.9,1421.2 L228.6,1419.8 L229.2,1418.4 L229.9,1417.1 L230.5,1415.7 L231.2,1414.3 L231.8,1413.0 L232.5,1411.6 L233.1,1410.3 L233.8,1408.9 L234.4,1407.5 L235.1,1406.2 L235.8,1404.8 L236.4,1403.5 L237.1,1402.1 L237.8,1400.8 L238.5,1399.5 L239.1,1398.2 L239.8,1396.9 L240.5,1395.6 L241.2,1394.3 L241.9,1393.0 L242.6,1391.7 L243.3,1390.4 L244.1,1389.2 L244.9,1388.0 L245.7,1386.7 L246.5,1385.5 L247.4,1384.3 L248.4,1383.1 L249.3,1382.0 L250.3,1380.8 L251.4,1379.7 L252.4,1378.6 L253.5,1377.5 L254.7,1376.5 L255.8,1375.4 L257.0,1374.5 L258.2,1373.5 L259.5,1372.6 L260.7,1371.7 L262.0,1370.9 L263.3,1370.1 L264.6,1369.4 L266.0,1368.7 L267.3,1368.0 L268.7,1367.5 L270.1,1366.9 L271.5,1366.5 L272.9,1366.0 L274.3,1365.7 L275.7,1365.4 L277.2,1365.2 L278.6,1365.0 L280.1,1364.9 L281.5,1364.9 L283.0,1365.0 L284.4,1365.1 L285.9,1365.2 L287.4,1365.4 L288.9,1365.6 L290.3,1365.9 L291.8,1366.1 L293.3,1366.4 L294.8,1366.7 L296.3,1367.1 L297.8,1367.4 L299.2,1367.7 L300.7,1368.0 L302.2,1368.3 L303.7,1368.7 L305.2,1369.0 L306.7,1369.4 L308.1,1369.7 L309.6,1370.1 L311.0,1370.5 L312.5,1371.0 L313.9,1371.5 L315.3,1372.0 L316.7,1372.5 L318.0,1373.1 L319.4,1373.7 L320.7,1374.4 L322.0,1375.0 L323.3,1375.7 L324.6,1376.5 L325.8,1377.3 L327.1,1378.0 L328.3,1378.9 L329.6,1379.7 L330.8,1380.5 L332.0,1381.4 L333.2,1382.3 L334.4,1383.2 L335.6,1384.1 L336.8,1385.0 L338.0,1385.9 L339.2,1386.9 L340.4,1387.8 L341.6,1388.7 L342.7,1389.7 L343.9,1390.6 L345.1,1391.5 L346.3,1392.4 L347.5,1393.3 L348.7,1394.2 L349.9,1395.1 L351.1,1396.0 L352.3,1396.9 L353.6,1397.7 L354.8,1398.5 L356.1,1399.3 L357.3,1400.1 L358.6,1400.9 L359.9,1401.6 L361.2,1402.3 L362.5,1403.0 L363.9,1403.6 L365.2,1404.2 L366.6,1404.8 L368.0,1405.3 L369.4,1405.8 L370.8,1406.3 L372.3,1406.7 L373.8,1407.0 L375.3,1407.3 L376.8,1407.6" fill="none" stroke="#f5dbb8" stroke-width="4.6" stroke-linejoin="round"/>
<line x1="376.8" y1="1407.8" x2="543.6" y2="1407.8" stroke="#f5dbb8" stroke-width="4.6"/>
<path d="M90.6,1407.8 L90.9,1406.3 L91.3,1404.8 L91.8,1403.4 L92.4,1402.1 L93.1,1400.8 L93.9,1399.5 L94.6,1398.2 L95.5,1397.0 L96.3,1395.8 L97.2,1394.6 L98.0,1393.3 L98.8,1392.1 L99.6,1390.9 L100.4,1389.6 L101.2,1388.3 L101.9,1387.1 L102.7,1385.8 L103.4,1384.5 L104.1,1383.2 L104.9,1381.9 L105.6,1380.6 L106.4,1379.4 L107.2,1378.1 L107.9,1376.8 L108.7,1375.6 L109.5,1374.3 L110.3,1373.1 L111.2,1371.9 L112.0,1370.6 L112.8,1369.4 L113.7,1368.2 L114.5,1366.9 L115.3,1365.7 L116.2,1364.5 L117.1,1363.3 L117.9,1362.0 L118.8,1360.8 L119.6,1359.6 L120.5,1358.4 L121.4,1357.2 L122.2,1355.9 L123.1,1354.7 L123.9,1353.5 L124.8,1352.3 L125.7,1351.0 L126.5,1349.8 L127.3,1348.5 L128.2,1347.3 L129.0,1346.1 L129.8,1344.8 L130.7,1343.6 L131.5,1342.3 L132.3,1341.0 L133.1,1339.8 L133.9,1338.5 L134.7,1337.3 L135.5,1336.0 L136.3,1334.7 L137.1,1333.5 L137.9,1332.2 L138.7,1330.9 L139.5,1329.6 L140.3,1328.4 L141.1,1327.1 L141.9,1325.8 L142.7,1324.5 L143.5,1323.3 L144.3,1322.0 L145.1,1320.7 L145.8,1319.4 L146.6,1318.2 L147.4,1316.9 L148.2,1315.6 L149.0,1314.4 L149.8,1313.1 L150.6,1311.8 L151.4,1310.5 L152.2,1309.3 L153.0,1308.0 L153.8,1306.7 L154.6,1305.5 L155.4,1304.2 L156.2,1303.0 L157.0,1301.7 L157.8,1300.5 L158.6,1299.2 L159.4,1298.0 L160.3,1296.7 L161.1,1295.5 L161.9,1294.2 L162.8,1293.0 L163.6,1291.8 L164.5,1290.6 L165.3,1289.3 L166.2,1288.1 L167.0,1286.9 L167.9,1285.7 L168.7,1284.5 L169.6,1283.3 L170.5,1282.0 L171.4,1280.8 L172.2,1279.6 L173.1,1278.4 L174.0,1277.2 L174.9,1276.0 L175.8,1274.8 L176.7,1273.6 L177.6,1272.4 L178.5,1271.2 L179.5,1270.0 L180.4,1268.8 L181.3,1267.6 L182.2,1266.4 L183.2,1265.3 L184.1,1264.1 L185.1,1262.9 L186.0,1261.7 L187.0,1260.6 L188.0,1259.4 L189.0,1258.3 L190.0,1257.2 L191.0,1256.1 L192.1,1255.1 L193.1,1254.0 L194.2,1253.0 L195.3,1252.0 L196.4,1251.0 L197.6,1250.1 L198.7,1249.1 L199.9,1248.2 L201.1,1247.4 L202.3,1246.6 L203.5,1245.8 L204.8,1245.0 L206.1,1244.3 L207.4,1243.7 L208.8,1243.1 L210.2,1242.5 L211.6,1241.9 L213.0,1241.4 L214.4,1240.8 L215.8,1240.3 L217.2,1239.8 L218.7,1239.3 L220.1,1238.8 L221.5,1238.3 L222.9,1237.7 L224.3,1237.2 L225.7,1236.6 L227.1,1236.1 L228.5,1235.5 L229.9,1235.0 L231.3,1234.5 L232.7,1234.0 L234.1,1233.6 L235.5,1233.2 L237.0,1232.9 L238.4,1232.6 L239.9,1232.4 L241.3,1232.2 L242.8,1232.0 L244.3,1231.9 L245.7,1231.8 L247.2,1231.7 L248.7,1231.6 L250.3,1231.6 L251.8,1231.6 L253.3,1231.6 L254.8,1231.6 L256.4,1231.6 L257.9,1231.6 L259.4,1231.7 L260.9,1231.8 L262.4,1232.0 L263.9,1232.2 L265.4,1232.4 L266.9,1232.7 L268.3,1233.0 L269.8,1233.3 L271.2,1233.7 L272.6,1234.2 L274.0,1234.6 L275.4,1235.1 L276.8,1235.6 L278.2,1236.2 L279.5,1236.8 L280.9,1237.3 L282.2,1238.0 L283.6,1238.6 L284.9,1239.2 L286.3,1239.9 L287.6,1240.5 L288.9,1241.2 L290.3,1241.9 L291.6,1242.5 L293.0,1243.2 L294.3,1243.8 L295.7,1244.5 L297.0,1245.1 L298.4,1245.8 L299.8,1246.4 L301.1,1247.0 L302.5,1247.6 L303.9,1248.3 L305.2,1248.9 L306.6,1249.5 L308.0,1250.2 L309.3,1250.8 L310.7,1251.4 L312.0,1252.1 L313.4,1252.7 L314.7,1253.4 L316.0,1254.1 L317.3,1254.8 L318.7,1255.5 L320.0,1256.2 L321.2,1256.9 L322.5,1257.7 L323.8,1258.5 L325.0,1259.3 L326.3,1260.1 L327.5,1260.9 L328.7,1261.8 L329.9,1262.7 L331.1,1263.6 L332.2,1264.6 L333.4,1265.5 L334.5,1266.5 L335.6,1267.5 L336.6,1268.5 L337.7,1269.4 L338.9,1270.3 L340.1,1271.2 L341.3,1271.9 L342.6,1272.6 L343.9,1273.3 L345.1,1274.0 L346.4,1274.8 L347.5,1275.7 L348.7,1276.7 L349.8,1277.7 L350.9,1278.7 L352.0,1279.7 L353.2,1280.7 L354.3,1281.7 L355.5,1282.6 L356.6,1283.6 L357.8,1284.5 L359.0,1285.4 L360.2,1286.3 L361.4,1287.2 L362.6,1288.1 L363.8,1289.0 L365.0,1289.8 L366.3,1290.7 L367.5,1291.5 L368.7,1292.4 L370.0,1293.2 L371.2,1294.1 L372.4,1294.9 L373.7,1295.8 L374.9,1296.6 L376.1,1297.5 L377.3,1298.4 L378.5,1299.2 L379.7,1300.1 L380.9,1301.0 L382.0,1301.9 L383.2,1302.9 L384.3,1303.8 L385.5,1304.7 L386.6,1305.6 L387.8,1306.6 L388.9,1307.5 L390.1,1308.4 L391.2,1309.3 L392.4,1310.2 L393.5,1311.1 L394.7,1312.0 L395.9,1312.9 L397.1,1313.8 L398.3,1314.7 L399.5,1315.6 L400.7,1316.5 L401.9,1317.4 L403.1,1318.3 L404.3,1319.1 L405.5,1320.0 L406.7,1320.9 L407.9,1321.7 L409.2,1322.6 L410.4,1323.4 L411.6,1324.3 L412.9,1325.1 L414.1,1326.0 L415.3,1326.8 L416.6,1327.7 L417.8,1328.5 L419.1,1329.3 L420.3,1330.2 L421.6,1331.0 L422.8,1331.8 L424.1,1332.6 L425.3,1333.5 L426.6,1334.3 L427.9,1335.1 L429.1,1335.9 L430.4,1336.7 L431.6,1337.5 L432.9,1338.3 L434.2,1339.1 L435.4,1339.9 L436.7,1340.7 L438.0,1341.5 L439.2,1342.3 L440.5,1343.1 L441.8,1343.9 L443.0,1344.7 L444.3,1345.5 L445.6,1346.2 L446.9,1347.0 L448.2,1347.8 L449.4,1348.6 L450.7,1349.3 L452.0,1350.1 L453.3,1350.9 L454.6,1351.6 L455.9,1352.4 L457.1,1353.1 L458.4,1353.9 L459.7,1354.6 L461.0,1355.4 L462.3,1356.1 L463.6,1356.9 L464.9,1357.6 L466.2,1358.3 L467.5,1359.1 L468.8,1359.8 L470.1,1360.5 L471.4,1361.3 L472.8,1362.0 L474.1,1362.7 L475.4,1363.4 L476.7,1364.1 L478.0,1364.8 L479.3,1365.5 L480.6,1366.3 L482.0,1367.0 L483.3,1367.7 L484.6,1368.4 L485.9,1369.1 L487.3,1369.8 L488.6,1370.5 L489.9,1371.2 L491.2,1371.8 L492.6,1372.5 L493.9,1373.2 L495.2,1373.9 L496.5,1374.6 L497.9,1375.3 L499.2,1376.0 L500.5,1376.7 L501.9,1377.4 L503.2,1378.1 L504.5,1378.8 L505.8,1379.5 L507.2,1380.2 L508.5,1380.9 L509.8,1381.6 L511.1,1382.3 L512.5,1383.0 L513.8,1383.7 L515.1,1384.4 L516.4,1385.2 L517.7,1385.9 L519.0,1386.6 L520.4,1387.3 L521.7,1388.0 L523.0,1388.8 L524.3,1389.5 L525.6,1390.2 L526.9,1391.0 L528.2,1391.7 L529.5,1392.4 L530.8,1393.2 L532.1,1393.9 L533.4,1394.6 L534.7,1395.4 L536.0,1396.1 L537.3,1396.8 L538.7,1397.5 L540.0,1398.2 L541.3,1398.9 L542.6,1399.5 L544.0,1400.2 L545.3,1400.8 L546.7,1401.5 L548.0,1402.1 L549.4,1402.6 L550.8,1403.2 L552.2,1403.7 L553.6,1404.3 L555.0,1404.7 L556.4,1405.2 L557.8,1405.6 L559.3,1406.0 L560.7,1406.4 L562.2,1406.8 L563.7,1407.1 L565.2,1407.4 L566.7,1407.6" fill="none" stroke="#d3eed0" stroke-width="4.6" stroke-linejoin="round"/>
<line x1="566.7" y1="1407.8" x2="649.0" y2="1407.8" stroke="#d3eed0" stroke-width="4.6"/>
<path d="M90.6,1407.8 L90.8,1409.3 L90.9,1410.8 L91.1,1412.3 L91.3,1413.7 L91.5,1415.2 L91.6,1416.7 L91.8,1418.2 L92.0,1419.7 L92.2,1421.2 L92.4,1422.7 L92.5,1424.1 L92.7,1425.6 L92.9,1427.1 L93.1,1428.6 L93.3,1430.1 L93.5,1431.6 L93.7,1433.1 L93.9,1434.5 L94.1,1436.0 L94.3,1437.5 L94.5,1439.0 L94.7,1440.5 L94.9,1442.0 L95.1,1443.5 L95.3,1444.9 L95.5,1446.4 L95.7,1447.9 L95.9,1449.4 L96.2,1450.9 L96.4,1452.3 L96.6,1453.8 L96.8,1455.3 L97.0,1456.8 L97.3,1458.3 L97.5,1459.8 L97.7,1461.2 L97.9,1462.7 L98.2,1464.2 L98.4,1465.7 L98.6,1467.2 L98.9,1468.6 L99.1,1470.1 L99.3,1471.6 L99.6,1473.1 L99.8,1474.6 L100.1,1476.0 L100.3,1477.5 L100.6,1479.0 L100.8,1480.5 L101.1,1481.9 L101.3,1483.4 L101.6,1484.9 L101.8,1486.4 L102.1,1487.9 L102.3,1489.3 L102.6,1490.8 L102.8,1492.3 L103.1,1493.8 L103.4,1495.2 L103.6,1496.7 L103.9,1498.2 L104.2,1499.6 L104.5,1501.1 L104.7,1502.6 L105.0,1504.1 L105.3,1505.5 L105.6,1507.0 L105.8,1508.5 L106.1,1509.9 L106.4,1511.4 L106.7,1512.9 L107.0,1514.4 L107.3,1515.8 L107.6,1517.3 L107.9,1518.8 L108.2,1520.2 L108.5,1521.7 L108.8,1523.2 L109.1,1524.6 L109.4,1526.1 L109.7,1527.6 L110.0,1529.0 L110.4,1530.5 L110.7,1531.9 L111.0,1533.4 L111.3,1534.9 L111.7,1536.3 L112.0,1537.8 L112.3,1539.2 L112.7,1540.7 L113.0,1542.1 L113.4,1543.6 L113.8,1545.1 L114.1,1546.5 L114.5,1548.0 L114.8,1549.4 L115.2,1550.9 L115.6,1552.3 L116.0,1553.8 L116.4,1555.2 L116.8,1556.7 L117.2,1558.1 L117.6,1559.5 L118.0,1561.0 L118.4,1562.4 L118.8,1563.9 L119.2,1565.3 L119.6,1566.8 L120.1,1568.2 L120.5,1569.6 L120.9,1571.1 L121.4,1572.5 L121.8,1573.9 L122.3,1575.4 L122.8,1576.8 L123.3,1578.2 L123.8,1579.6 L124.3,1581.0 L124.8,1582.4 L125.3,1583.8 L125.9,1585.2 L126.4,1586.6 L127.0,1588.0 L127.6,1589.4 L128.3,1590.7 L128.9,1592.1 L129.6,1593.4 L130.3,1594.7 L131.1,1596.0 L131.9,1597.3 L132.7,1598.6 L133.5,1599.9 L134.4,1601.1 L135.3,1602.3 L136.2,1603.5 L137.2,1604.7 L138.2,1605.8 L139.3,1606.7 L140.5,1607.5 L141.7,1608.1 L143.0,1608.4 L144.4,1608.5 L145.8,1608.3 L147.2,1607.9 L148.7,1607.4 L150.0,1606.6 L151.3,1605.7 L152.5,1604.8 L153.6,1603.7 L154.6,1602.5 L155.6,1601.4 L156.5,1600.1 L157.3,1598.8 L158.1,1597.5 L159.0,1596.2 L159.8,1595.0 L160.6,1593.7 L161.4,1592.4 L162.2,1591.1 L163.0,1589.8 L163.7,1588.6 L164.5,1587.3 L165.2,1586.0 L165.9,1584.7 L166.6,1583.4 L167.3,1582.1 L168.0,1580.8 L168.6,1579.4 L169.2,1578.1 L169.8,1576.7 L170.4,1575.3 L170.9,1574.0 L171.5,1572.6 L172.0,1571.2 L172.5,1569.8 L173.0,1568.4 L173.5,1567.0 L174.0,1565.5 L174.4,1564.1 L174.9,1562.7 L175.4,1561.3 L175.8,1559.8 L176.3,1558.4 L176.7,1557.0 L177.2,1555.5 L177.6,1554.1 L178.1,1552.7 L178.6,1551.2 L179.0,1549.8 L179.5,1548.4 L180.0,1546.9 L180.4,1545.5 L180.9,1544.1 L181.4,1542.7 L181.9,1541.2 L182.4,1539.8 L182.9,1538.4 L183.3,1537.0 L183.8,1535.6 L184.3,1534.2 L184.9,1532.8 L185.4,1531.3 L185.9,1529.9 L186.4,1528.5 L186.9,1527.1 L187.4,1525.7 L187.9,1524.3 L188.5,1522.9 L189.0,1521.5 L189.5,1520.1 L190.0,1518.7 L190.6,1517.3 L191.1,1515.9 L191.6,1514.5 L192.2,1513.1 L192.7,1511.7 L193.2,1510.3 L193.8,1508.9 L194.3,1507.5 L194.8,1506.1 L195.4,1504.7 L195.9,1503.3 L196.5,1501.9 L197.0,1500.6 L197.5,1499.2 L198.1,1497.8 L198.6,1496.4 L199.1,1495.0 L199.7,1493.6 L200.2,1492.2 L200.7,1490.8 L201.3,1489.4 L201.8,1488.0 L202.3,1486.6 L202.9,1485.2 L203.4,1483.8 L203.9,1482.4 L204.4,1481.0 L205.0,1479.6 L205.5,1478.2 L206.0,1476.8 L206.5,1475.4 L207.0,1473.9 L207.5,1472.5 L208.0,1471.1 L208.5,1469.7 L209.0,1468.3 L209.5,1466.9 L210.0,1465.5 L210.5,1464.1 L211.0,1462.6 L211.5,1461.2 L212.0,1459.8 L212.5,1458.4 L212.9,1457.0 L213.4,1455.5 L213.9,1454.1 L214.4,1452.7 L214.9,1451.3 L215.4,1449.9 L216.0,1448.5 L216.5,1447.1 L217.0,1445.7 L217.5,1444.3 L218.1,1442.9 L218.6,1441.5 L219.2,1440.2 L219.8,1438.8 L220.4,1437.4 L221.0,1436.1 L221.6,1434.7 L222.2,1433.3 L222.8,1432.0 L223.4,1430.6 L224.1,1429.3 L224.7,1427.9 L225.3,1426.6 L226.0,1425.2 L226.6,1423.9 L227.3,1422.5 L227.9,1421.2 L228.6,1419.8 L229.2,1418.4 L229.9,1417.1 L230.5,1415.7 L231.2,1414.3 L231.8,1413.0 L232.5,1411.6 L233.1,1410.3 L233.8,1408.9 L234.4,1407.5 L235.1,1406.2 L235.8,1404.8 L236.4,1403.5 L237.1,1402.1 L237.8,1400.8 L238.5,1399.5 L239.1,1398.2 L239.8,1396.9 L240.5,1395.6 L241.2,1394.3 L241.9,1393.0 L242.6,1391.7 L243.3,1390.4 L244.1,1389.2 L244.9,1388.0 L245.7,1386.7 L246.5,1385.5 L247.4,1384.3 L248.4,1383.1 L249.3,1382.0 L250.3,1380.8 L251.4,1379.7 L252.4,1378.6 L253.5,1377.5 L254.7,1376.5 L255.8,1375.4 L257.0,1374.5 L258.2,1373.5 L259.5,1372.6 L260.7,1371.7 L262.0,1370.9 L263.3,1370.1 L264.6,1369.4 L266.0,1368.7 L267.3,1368.0 L268.7,1367.5 L270.1,1366.9 L271.5,1366.5 L272.9,1366.0 L274.3,1365.7 L275.7,1365.4 L277.2,1365.2 L278.6,1365.0 L280.1,1364.9 L281.5,1364.9 L283.0,1365.0 L284.4,1365.1 L285.9,1365.2 L287.4,1365.4 L288.9,1365.6 L290.3,1365.9 L291.8,1366.1 L293.3,1366.4 L294.8,1366.7 L296.3,1367.1 L297.8,1367.4 L299.2,1367.7 L300.7,1368.0 L302.2,1368.3 L303.7,1368.7 L305.2,1369.0 L306.7,1369.4 L308.1,1369.7 L309.6,1370.1 L311.0,1370.5 L312.5,1371.0 L313.9,1371.5 L315.3,1372.0 L316.7,1372.5 L318.0,1373.1 L319.4,1373.7 L320.7,1374.4 L322.0,1375.0 L323.3,1375.7 L324.6,1376.5 L325.8,1377.3 L327.1,1378.0 L328.3,1378.9 L329.6,1379.7 L330.8,1380.5 L332.0,1381.4 L333.2,1382.3 L334.4,1383.2 L335.6,1384.1 L336.8,1385.0 L338.0,1385.9 L339.2,1386.9 L340.4,1387.8 L341.6,1388.7 L342.7,1389.7 L343.9,1390.6 L345.1,1391.5 L346.3,1392.4 L347.5,1393.3 L348.7,1394.2 L349.9,1395.1 L351.1,1396.0 L352.3,1396.9 L353.6,1397.7 L354.8,1398.5 L356.1,1399.3 L357.3,1400.1 L358.6,1400.9 L359.9,1401.6 L361.2,1402.3 L362.5,1403.0 L363.9,1403.6 L365.2,1404.2 L366.6,1404.8 L368.0,1405.3 L369.4,1405.8 L370.8,1406.3 L372.3,1406.7 L373.8,1407.0 L375.3,1407.3 L376.8,1407.6" fill="none" stroke="#cf8839" stroke-width="2.4" stroke-linejoin="round"/>
<line x1="376.8" y1="1407.8" x2="543.6" y2="1407.8" stroke="#cf8839" stroke-width="2.4"/>
<path d="M90.6,1407.8 L90.9,1406.3 L91.3,1404.8 L91.8,1403.4 L92.4,1402.1 L93.1,1400.8 L93.9,1399.5 L94.6,1398.2 L95.5,1397.0 L96.3,1395.8 L97.2,1394.6 L98.0,1393.3 L98.8,1392.1 L99.6,1390.9 L100.4,1389.6 L101.2,1388.3 L101.9,1387.1 L102.7,1385.8 L103.4,1384.5 L104.1,1383.2 L104.9,1381.9 L105.6,1380.6 L106.4,1379.4 L107.2,1378.1 L107.9,1376.8 L108.7,1375.6 L109.5,1374.3 L110.3,1373.1 L111.2,1371.9 L112.0,1370.6 L112.8,1369.4 L113.7,1368.2 L114.5,1366.9 L115.3,1365.7 L116.2,1364.5 L117.1,1363.3 L117.9,1362.0 L118.8,1360.8 L119.6,1359.6 L120.5,1358.4 L121.4,1357.2 L122.2,1355.9 L123.1,1354.7 L123.9,1353.5 L124.8,1352.3 L125.7,1351.0 L126.5,1349.8 L127.3,1348.5 L128.2,1347.3 L129.0,1346.1 L129.8,1344.8 L130.7,1343.6 L131.5,1342.3 L132.3,1341.0 L133.1,1339.8 L133.9,1338.5 L134.7,1337.3 L135.5,1336.0 L136.3,1334.7 L137.1,1333.5 L137.9,1332.2 L138.7,1330.9 L139.5,1329.6 L140.3,1328.4 L141.1,1327.1 L141.9,1325.8 L142.7,1324.5 L143.5,1323.3 L144.3,1322.0 L145.1,1320.7 L145.8,1319.4 L146.6,1318.2 L147.4,1316.9 L148.2,1315.6 L149.0,1314.4 L149.8,1313.1 L150.6,1311.8 L151.4,1310.5 L152.2,1309.3 L153.0,1308.0 L153.8,1306.7 L154.6,1305.5 L155.4,1304.2 L156.2,1303.0 L157.0,1301.7 L157.8,1300.5 L158.6,1299.2 L159.4,1298.0 L160.3,1296.7 L161.1,1295.5 L161.9,1294.2 L162.8,1293.0 L163.6,1291.8 L164.5,1290.6 L165.3,1289.3 L166.2,1288.1 L167.0,1286.9 L167.9,1285.7 L168.7,1284.5 L169.6,1283.3 L170.5,1282.0 L171.4,1280.8 L172.2,1279.6 L173.1,1278.4 L174.0,1277.2 L174.9,1276.0 L175.8,1274.8 L176.7,1273.6 L177.6,1272.4 L178.5,1271.2 L179.5,1270.0 L180.4,1268.8 L181.3,1267.6 L182.2,1266.4 L183.2,1265.3 L184.1,1264.1 L185.1,1262.9 L186.0,1261.7 L187.0,1260.6 L188.0,1259.4 L189.0,1258.3 L190.0,1257.2 L191.0,1256.1 L192.1,1255.1 L193.1,1254.0 L194.2,1253.0 L195.3,1252.0 L196.4,1251.0 L197.6,1250.1 L198.7,1249.1 L199.9,1248.2 L201.1,1247.4 L202.3,1246.6 L203.5,1245.8 L204.8,1245.0 L206.1,1244.3 L207.4,1243.7 L208.8,1243.1 L210.2,1242.5 L211.6,1241.9 L213.0,1241.4 L214.4,1240.8 L215.8,1240.3 L217.2,1239.8 L218.7,1239.3 L220.1,1238.8 L221.5,1238.3 L222.9,1237.7 L224.3,1237.2 L225.7,1236.6 L227.1,1236.1 L228.5,1235.5 L229.9,1235.0 L231.3,1234.5 L232.7,1234.0 L234.1,1233.6 L235.5,1233.2 L237.0,1232.9 L238.4,1232.6 L239.9,1232.4 L241.3,1232.2 L242.8,1232.0 L244.3,1231.9 L245.7,1231.8 L247.2,1231.7 L248.7,1231.6 L250.3,1231.6 L251.8,1231.6 L253.3,1231.6 L254.8,1231.6 L256.4,1231.6 L257.9,1231.6 L259.4,1231.7 L260.9,1231.8 L262.4,1232.0 L263.9,1232.2 L265.4,1232.4 L266.9,1232.7 L268.3,1233.0 L269.8,1233.3 L271.2,1233.7 L272.6,1234.2 L274.0,1234.6 L275.4,1235.1 L276.8,1235.6 L278.2,1236.2 L279.5,1236.8 L280.9,1237.3 L282.2,1238.0 L283.6,1238.6 L284.9,1239.2 L286.3,1239.9 L287.6,1240.5 L288.9,1241.2 L290.3,1241.9 L291.6,1242.5 L293.0,1243.2 L294.3,1243.8 L295.7,1244.5 L297.0,1245.1 L298.4,1245.8 L299.8,1246.4 L301.1,1247.0 L302.5,1247.6 L303.9,1248.3 L305.2,1248.9 L306.6,1249.5 L308.0,1250.2 L309.3,1250.8 L310.7,1251.4 L312.0,1252.1 L313.4,1252.7 L314.7,1253.4 L316.0,1254.1 L317.3,1254.8 L318.7,1255.5 L320.0,1256.2 L321.2,1256.9 L322.5,1257.7 L323.8,1258.5 L325.0,1259.3 L326.3,1260.1 L327.5,1260.9 L328.7,1261.8 L329.9,1262.7 L331.1,1263.6 L332.2,1264.6 L333.4,1265.5 L334.5,1266.5 L335.6,1267.5 L336.6,1268.5 L337.7,1269.4 L338.9,1270.3 L340.1,1271.2 L341.3,1271.9 L342.6,1272.6 L343.9,1273.3 L345.1,1274.0 L346.4,1274.8 L347.5,1275.7 L348.7,1276.7 L349.8,1277.7 L350.9,1278.7 L352.0,1279.7 L353.2,1280.7 L354.3,1281.7 L355.5,1282.6 L356.6,1283.6 L357.8,1284.5 L359.0,1285.4 L360.2,1286.3 L361.4,1287.2 L362.6,1288.1 L363.8,1289.0 L365.0,1289.8 L366.3,1290.7 L367.5,1291.5 L368.7,1292.4 L370.0,1293.2 L371.2,1294.1 L372.4,1294.9 L373.7,1295.8 L374.9,1296.6 L376.1,1297.5 L377.3,1298.4 L378.5,1299.2 L379.7,1300.1 L380.9,1301.0 L382.0,1301.9 L383.2,1302.9 L384.3,1303.8 L385.5,1304.7 L386.6,1305.6 L387.8,1306.6 L388.9,1307.5 L390.1,1308.4 L391.2,1309.3 L392.4,1310.2 L393.5,1311.1 L394.7,1312.0 L395.9,1312.9 L397.1,1313.8 L398.3,1314.7 L399.5,1315.6 L400.7,1316.5 L401.9,1317.4 L403.1,1318.3 L404.3,1319.1 L405.5,1320.0 L406.7,1320.9 L407.9,1321.7 L409.2,1322.6 L410.4,1323.4 L411.6,1324.3 L412.9,1325.1 L414.1,1326.0 L415.3,1326.8 L416.6,1327.7 L417.8,1328.5 L419.1,1329.3 L420.3,1330.2 L421.6,1331.0 L422.8,1331.8 L424.1,1332.6 L425.3,1333.5 L426.6,1334.3 L427.9,1335.1 L429.1,1335.9 L430.4,1336.7 L431.6,1337.5 L432.9,1338.3 L434.2,1339.1 L435.4,1339.9 L436.7,1340.7 L438.0,1341.5 L439.2,1342.3 L440.5,1343.1 L441.8,1343.9 L443.0,1344.7 L444.3,1345.5 L445.6,1346.2 L446.9,1347.0 L448.2,1347.8 L449.4,1348.6 L450.7,1349.3 L452.0,1350.1 L453.3,1350.9 L454.6,1351.6 L455.9,1352.4 L457.1,1353.1 L458.4,1353.9 L459.7,1354.6 L461.0,1355.4 L462.3,1356.1 L463.6,1356.9 L464.9,1357.6 L466.2,1358.3 L467.5,1359.1 L468.8,1359.8 L470.1,1360.5 L471.4,1361.3 L472.8,1362.0 L474.1,1362.7 L475.4,1363.4 L476.7,1364.1 L478.0,1364.8 L479.3,1365.5 L480.6,1366.3 L482.0,1367.0 L483.3,1367.7 L484.6,1368.4 L485.9,1369.1 L487.3,1369.8 L488.6,1370.5 L489.9,1371.2 L491.2,1371.8 L492.6,1372.5 L493.9,1373.2 L495.2,1373.9 L496.5,1374.6 L497.9,1375.3 L499.2,1376.0 L500.5,1376.7 L501.9,1377.4 L503.2,1378.1 L504.5,1378.8 L505.8,1379.5 L507.2,1380.2 L508.5,1380.9 L509.8,1381.6 L511.1,1382.3 L512.5,1383.0 L513.8,1383.7 L515.1,1384.4 L516.4,1385.2 L517.7,1385.9 L519.0,1386.6 L520.4,1387.3 L521.7,1388.0 L523.0,1388.8 L524.3,1389.5 L525.6,1390.2 L526.9,1391.0 L528.2,1391.7 L529.5,1392.4 L530.8,1393.2 L532.1,1393.9 L533.4,1394.6 L534.7,1395.4 L536.0,1396.1 L537.3,1396.8 L538.7,1397.5 L540.0,1398.2 L541.3,1398.9 L542.6,1399.5 L544.0,1400.2 L545.3,1400.8 L546.7,1401.5 L548.0,1402.1 L549.4,1402.6 L550.8,1403.2 L552.2,1403.7 L553.6,1404.3 L555.0,1404.7 L556.4,1405.2 L557.8,1405.6 L559.3,1406.0 L560.7,1406.4 L562.2,1406.8 L563.7,1407.1 L565.2,1407.4 L566.7,1407.6" fill="none" stroke="#58a058" stroke-width="2.4" stroke-linejoin="round"/>
<line x1="566.7" y1="1407.8" x2="649.0" y2="1407.8" stroke="#58a058" stroke-width="2.4"/>
<path d="M90.6,1185.3 V1630.3 H649.0" fill="none" stroke="#262626" stroke-width="2.1"/>
<path d="M90.6,1229.8h9 M90.6,1318.8h9 M90.6,1496.8h9 M90.6,1585.8h9 M90.6,1185.3h4.5 M90.6,1274.3h4.5 M90.6,1363.3h4.5 M90.6,1452.3h4.5 M90.6,1541.3h4.5 M230.2,1630.3v-8.5 M369.8,1630.3v-8.5 M509.4,1630.3v-8.5 M649.0,1630.3v-8.5 M160.4,1630.3v-4.5 M300.0,1630.3v-4.5 M439.6,1630.3v-4.5 M579.2,1630.3v-4.5" stroke="#262626" stroke-width="2.1" fill="none"/>
<text transform="translate(80.70,1237.50) scale(0.96,1)" font-size="24.0" text-anchor="end">0.04</text>
<text transform="translate(80.70,1326.50) scale(0.96,1)" font-size="24.0" text-anchor="end">0.02</text>
<text transform="translate(80.70,1415.50) scale(0.96,1)" font-size="24.0" text-anchor="end">0.00</text>
<text transform="translate(80.70,1504.50) scale(0.96,1)" font-size="24.0" text-anchor="end">-0.02</text>
<text transform="translate(80.70,1593.50) scale(0.96,1)" font-size="24.0" text-anchor="end">-0.04</text>
<text transform="translate(89.80,1657.30) scale(0.915,1)" font-size="24.0" text-anchor="middle">0.0</text>
<text transform="translate(229.40,1657.30) scale(0.915,1)" font-size="24.0" text-anchor="middle">0.5</text>
<text transform="translate(369.00,1657.30) scale(0.915,1)" font-size="24.0" text-anchor="middle">1.0</text>
<text transform="translate(508.60,1657.30) scale(0.915,1)" font-size="24.0" text-anchor="middle">1.5</text>
<text transform="translate(648.20,1657.30) scale(0.915,1)" font-size="24.0" text-anchor="middle">2.0</text>
<text transform="translate(26.8,1410.5) rotate(-90)" text-anchor="middle" font-size="22" textLength="201" lengthAdjust="spacingAndGlyphs">Deviatoric Stress/MPa</text>
<g transform="translate(294.5,1683.1) scale(0.946)">
<text x="-0.60" y="0.00" font-size="23.3">Axial</text>
<text x="55.70" y="0.00" font-size="23.3">Strain</text>
<text x="117.00" y="0.00" font-size="23.3">ε</text>
<text x="126.00" y="2.00" font-size="12.5" font-style="italic">Z</text>
<text x="133.00" y="1.00" font-size="26">/</text>
<text x="140.40" y="0.00" font-size="23.3" letter-spacing="-1.8">10</text>
<text x="162.60" y="-11.00" font-size="13.5">-4</text>
</g>
<text x="366.90" y="1723.00" font-size="26" text-anchor="middle" font-weight="bold">(c)</text>
<path d="M520.2,1196.3000000000002H574.4" stroke="#f5dbb8" stroke-width="5"/>
<path d="M520.2,1224.3000000000002H574.4" stroke="#d3eed0" stroke-width="5"/>
<path d="M520.2,1196.3000000000002H574.4" stroke="#cf8839" stroke-width="2.5"/>
<path d="M520.2,1224.3000000000002H574.4" stroke="#58a058" stroke-width="2.5"/>
<text x="583.40" y="1202.20" font-size="16.8">Scheme 1</text>
<text x="583.40" y="1229.80" font-size="16.8">Scheme 2</text>
<text x="525.40" y="1258.30" font-size="17">m</text>
<text x="539.00" y="1260.60" font-size="12.24" stroke-width="0">i</text>
<text transform="translate(541.70,1258.30) scale(1.08,1)" font-size="17">=2.0</text>
<circle cx="48.4" cy="1360.8" r="1.1" fill="#8a8a8a" stroke="none"/>
</g>
</svg>
</body></html>
